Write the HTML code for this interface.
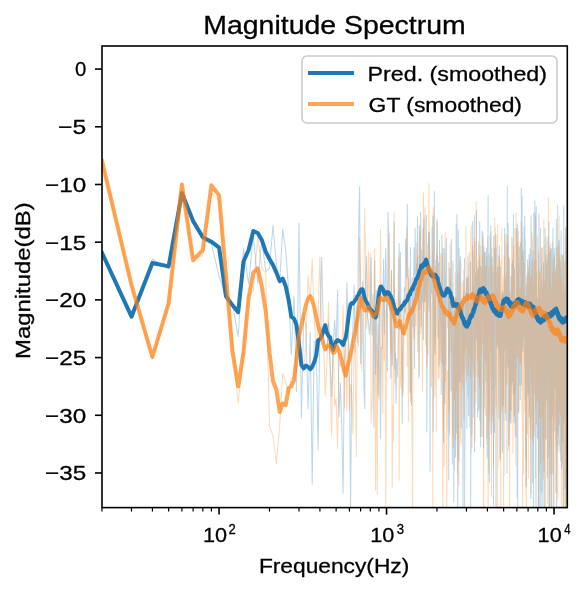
<!DOCTYPE html>
<html><head><meta charset="utf-8"><style>html,body{margin:0;padding:0;background:#fff;overflow:hidden}svg{display:block}text{font-family:"Liberation Sans", sans-serif}</style></head>
<body><svg width="587" height="591" viewBox="0 0 587 591">
<rect width="587" height="591" fill="#fff"/>
<defs><clipPath id="ax"><rect x="102.0" y="46.0" width="465.29999999999995" height="461.6"/></clipPath></defs>
<g clip-path="url(#ax)">
<g opacity="0.3"><path d="M102.0,252.8L131.5,318.0L152.4,259.0L168.6,269.0L181.9,199.9L193.1,218.4L202.8,239.9L211.4,244.1L219.1,276.1L226.0,298.7L232.3,303.2L238.2,336.6L243.5,248.4L248.6,283.8L253.3,235.1L257.7,283.3L261.8,240.3L265.8,271.6L269.5,267.8L273.0,224.9L276.4,265.4L279.7,282.3L282.7,229.1L285.7,250.1L288.6,289.1L291.3,354.4L294.0,296.3L296.5,391.8L299.0,223.3L301.4,417.9L303.7,314.0L305.9,326.3L308.1,409.1L310.2,331.9L312.2,484.3L314.2,341.7L316.2,340.8L318.1,450.0L319.9,329.8L321.7,257.2L323.5,335.8L325.2,345.7L326.8,350.5L328.5,322.8L330.1,360.2L331.6,396.7L333.2,343.6L334.7,319.9L336.1,346.6L337.6,290.0L339.0,416.8L340.4,382.7L341.7,426.8L343.1,493.6L344.4,358.4L345.7,340.1L346.9,282.7L348.2,331.8L349.4,371.9L350.6,511.1L351.8,356.7L352.9,327.8L354.1,285.1L355.2,352.4L356.3,305.4L357.4,342.7L358.5,235.5L359.6,186.4L360.6,364.0L361.6,298.9L362.7,281.3L363.7,376.6L364.7,408.8L365.6,277.6L366.6,256.6L367.5,314.2L368.5,323.2L369.4,334.1L370.3,323.1L371.2,257.5L372.1,335.0L373.0,294.4L373.9,427.1L374.7,260.7L375.6,374.6L376.4,290.3L377.3,356.8L378.1,395.3L378.9,315.6L379.7,299.3L380.5,438.8L381.3,347.9L382.1,348.5L382.8,303.2L383.6,258.7L384.3,334.6L385.1,283.8L385.8,248.4L386.6,311.1L387.3,371.1L388.0,212.1L388.7,236.1L389.4,310.7L390.1,293.2L390.8,378.5L391.5,270.6L392.2,365.8L392.8,354.9L393.5,306.7L394.1,221.9L394.8,368.9L395.4,352.3L396.1,403.6L396.7,358.5L397.3,376.7L398.0,356.5L398.6,306.1L399.2,243.6L399.8,329.6L400.4,252.3L401.0,315.4L401.6,338.9L402.2,423.6L402.8,355.5L403.4,327.5L403.9,313.9L404.5,287.3L405.1,312.7L405.6,238.8L406.2,256.4L406.7,277.2L407.3,204.2L407.8,276.5L408.4,279.5L408.9,318.9L409.5,289.3L410.0,392.2L410.5,247.4L411.0,395.8L411.5,405.2L412.1,277.7L412.6,289.0L413.1,326.7L413.6,275.0L414.1,247.5L414.6,368.3L415.1,228.4L415.6,273.3L416.0,294.4L416.5,263.9L417.0,269.6L417.5,216.8L418.0,277.6L418.4,320.7L418.9,378.2L419.4,225.4L419.8,309.6L420.3,236.9L420.7,212.3L421.2,326.0L421.6,250.6L422.1,302.8L422.5,278.0L423.0,228.4L423.4,339.5L423.9,219.0L424.3,301.2L424.7,272.9L425.1,302.1L425.6,263.5L426.0,295.7L426.4,215.3L426.8,432.0L427.3,305.1L427.7,261.5L428.1,280.0L428.5,233.0L428.9,305.1L429.3,311.6L429.7,231.9L430.1,471.2L430.5,306.6L430.9,277.1L431.3,278.6L431.7,293.6L432.1,226.8L432.5,278.4L432.9,215.7L433.2,431.5L433.6,346.2L434.0,267.7L434.4,191.6L434.8,340.6L435.1,354.6L435.5,334.0L435.9,260.1L436.2,278.5L436.6,253.7L437.0,271.8L437.3,219.3L437.7,284.4L438.1,337.8L438.4,263.0L438.8,326.2L439.1,365.7L439.5,240.4L439.8,318.8L440.2,311.5L440.5,309.3L440.9,337.9L441.2,394.5L441.6,334.2L441.9,235.3L442.2,326.6L442.6,364.8L442.9,248.0L443.2,402.7L443.6,442.5L443.9,369.4L444.2,248.5L444.6,277.7L444.9,403.9L445.2,367.7L445.5,361.0L445.9,280.8L446.2,255.3L446.5,238.3L446.8,308.4L447.1,290.7L447.5,296.8L447.8,327.6L448.1,300.1L448.4,290.9L448.7,480.0L449.0,379.3L449.3,287.5L449.6,434.3L449.9,268.1L450.2,329.2L450.5,279.5L450.8,329.0L451.1,390.8L451.4,239.5L451.7,321.4L452.0,332.8L452.3,464.0L452.6,302.5L452.9,261.2L453.2,354.5L453.5,311.2L453.8,501.7L454.1,390.6L454.4,469.5L454.6,327.4L454.9,297.5L455.2,306.9L455.5,457.2L455.8,428.4L456.1,224.6L456.3,391.8L456.6,432.9L456.9,214.4L457.2,280.7L457.4,269.0L457.7,527.6L458.0,426.1L458.3,230.1L458.5,265.6L458.8,460.4L459.1,248.1L459.3,276.0L459.6,381.3L459.9,382.0L460.1,331.6L460.4,378.7L460.7,256.6L460.9,344.6L461.2,428.0L461.4,313.7L461.7,338.8L462.0,299.7L462.2,300.6L462.5,345.6L462.7,379.1L463.0,514.7L463.2,443.7L463.5,292.2L463.7,357.7L464.0,269.2L464.2,372.1L464.5,258.6L464.7,519.6L465.0,388.6L465.2,357.4L465.5,300.9L465.7,347.0L466.0,292.4L466.2,293.1L466.5,306.8L466.7,278.6L466.9,428.3L467.2,286.3L467.4,396.3L467.7,309.5L467.9,276.7L468.1,310.4L468.4,334.7L468.6,415.7L468.8,368.4L469.1,252.8L469.3,382.4L469.5,387.8L469.8,387.8L470.0,426.3L470.2,404.2L470.5,262.1L470.7,527.6L470.9,378.1L471.2,452.7L471.4,292.7L471.6,393.5L471.8,434.4L472.1,406.6L472.3,361.8L472.5,289.1L472.7,221.4L473.0,360.9L473.2,285.0L473.4,369.9L473.6,321.0L473.8,416.9L474.1,316.6L474.3,215.7L474.5,451.8L474.7,305.0L474.9,391.7L475.1,371.8L475.4,345.3L475.6,273.2L475.8,294.0L476.0,324.7L476.2,295.4L476.4,210.5L476.6,337.0L476.8,339.6L477.1,334.2L477.3,270.7L477.5,369.5L477.7,417.1L477.9,332.0L478.1,267.5L478.3,272.3L478.5,410.7L478.7,297.4L478.9,409.1L479.1,360.9L479.3,245.0L479.5,348.6L479.7,221.9L479.9,420.2L480.1,295.3L480.3,311.4L480.5,335.9L480.7,446.7L480.9,266.0L481.1,371.1L481.3,358.3L481.5,286.8L481.7,267.5L481.9,436.7L482.1,231.1L482.3,260.6L482.5,255.9L482.7,320.8L482.9,233.0L483.1,296.0L483.3,354.1L483.5,448.1L483.7,304.8L483.8,246.3L484.0,319.4L484.2,408.1L484.4,347.4L484.6,324.4L484.8,258.4L485.0,252.5L485.2,325.4L485.4,263.1L485.5,360.9L485.7,299.8L485.9,345.2L486.1,381.3L486.3,247.9L486.5,297.7L486.7,253.0L486.8,443.8L487.0,328.1L487.2,458.0L487.4,252.9L487.6,236.2L487.8,290.4L487.9,280.9L488.1,195.5L488.3,328.7L488.5,399.1L488.7,438.9L488.8,473.6L489.0,300.3L489.2,253.9L489.4,482.7L489.5,261.0L489.7,303.9L489.9,331.9L490.1,235.7L490.2,325.1L490.4,274.7L490.6,350.1L490.8,225.2L490.9,358.7L491.1,434.0L491.3,423.8L491.5,331.7L491.6,338.5L491.8,263.3L492.0,256.9L492.1,334.3L492.3,273.2L492.5,349.4L492.6,389.2L492.8,352.5L493.0,421.0L493.2,316.2L493.3,419.2L493.5,505.2L493.7,236.2L493.8,342.9L494.0,306.3L494.2,255.8L494.3,378.7L494.5,432.5L494.7,336.2L494.8,248.6L495.0,385.5L495.1,261.9L495.3,362.4L495.5,294.1L495.6,270.5L495.8,233.9L496.0,527.6L496.1,359.8L496.3,246.7L496.4,341.3L496.6,348.0L496.8,342.9L496.9,328.1L497.1,288.9L497.2,344.3L497.4,325.4L497.6,287.3L497.7,267.0L497.9,275.4L498.0,319.8L498.2,298.9L498.3,349.0L498.5,326.6L498.7,255.8L498.8,275.8L499.0,418.7L499.1,321.3L499.3,250.7L499.4,245.5L499.6,401.7L499.7,349.6L499.9,460.0L500.0,314.1L500.2,266.8L500.3,441.9L500.5,457.9L500.7,412.2L500.8,338.6L501.0,325.1L501.1,330.4L501.3,333.3L501.4,298.5L501.6,347.8L501.7,320.4L501.9,293.4L502.0,404.1L502.2,303.0L502.3,447.1L502.4,452.6L502.6,448.4L502.7,291.0L502.9,420.2L503.0,309.8L503.2,375.2L503.3,294.2L503.5,341.7L503.6,405.7L503.8,371.3L503.9,333.7L504.1,368.8L504.2,312.0L504.3,283.4L504.5,321.3L504.6,228.5L504.8,263.6L504.9,243.8L505.1,299.4L505.2,349.6L505.3,286.9L505.5,322.7L505.6,332.8L505.8,420.3L505.9,278.9L506.1,341.1L506.2,275.9L506.3,335.4L506.5,288.0L506.6,317.4L506.8,282.1L506.9,234.0L507.0,473.1L507.2,288.9L507.3,186.6L507.4,301.8L507.6,274.0L507.7,329.5L507.9,367.0L508.0,267.1L508.1,223.1L508.3,313.7L508.4,242.1L508.5,366.8L508.7,296.6L508.8,303.1L508.9,445.6L509.1,443.8L509.2,259.9L509.4,258.7L509.5,423.0L509.6,417.3L509.8,318.3L509.9,294.8L510.0,302.0L510.2,410.3L510.3,398.3L510.4,389.3L510.6,383.1L510.7,422.6L510.8,276.8L510.9,301.3L511.1,423.3L511.2,407.1L511.3,342.3L511.5,281.6L511.6,352.7L511.7,386.3L511.9,264.2L512.0,284.3L512.1,326.6L512.3,260.6L512.4,326.9L512.5,382.6L512.6,303.2L512.8,316.5L512.9,260.1L513.0,332.0L513.2,394.6L513.3,296.6L513.4,214.4L513.5,290.3L513.7,335.8L513.8,269.2L513.9,324.9L514.0,422.5L514.2,322.9L514.3,291.6L514.4,327.8L514.5,268.8L514.7,386.4L514.8,312.4L514.9,416.1L515.0,381.9L515.2,436.9L515.3,322.3L515.4,308.8L515.5,390.3L515.7,377.0L515.8,315.6L515.9,370.5L516.0,313.4L516.2,305.5L516.3,341.6L516.4,228.5L516.5,343.3L516.6,240.1L516.8,270.3L516.9,254.4L517.0,289.8L517.1,497.6L517.2,373.1L517.4,223.8L517.5,231.3L517.6,224.6L517.7,527.6L517.8,356.9L518.0,244.9L518.1,356.5L518.2,412.0L518.3,325.3L518.4,324.0L518.6,308.1L518.7,413.1L518.8,264.9L518.9,285.0L519.0,359.5L519.1,344.3L519.3,247.3L519.4,339.5L519.5,365.5L519.6,384.8L519.7,309.2L519.9,292.7L520.0,319.0L520.1,263.1L520.2,335.1L520.3,399.5L520.4,282.5L520.5,242.4L520.7,270.6L520.8,301.5L520.9,353.9L521.0,306.9L521.1,385.6L521.2,357.7L521.3,188.2L521.5,384.9L521.6,315.3L521.7,272.4L521.8,350.7L521.9,281.5L522.0,330.8L522.1,196.1L522.3,312.1L522.4,231.8L522.5,255.3L522.6,329.0L522.7,345.9L522.8,263.4L522.9,250.7L523.0,351.0L523.2,321.1L523.3,340.3L523.4,322.9L523.5,303.1L523.6,335.2L523.7,315.6L523.8,292.8L523.9,274.3L524.0,227.1L524.1,279.6L524.3,269.4L524.4,328.0L524.5,293.4L524.6,280.2L524.7,366.0L524.8,216.0L524.9,296.5L525.0,285.9L525.1,301.0L525.2,400.2L525.3,238.7L525.4,330.4L525.6,357.5L525.7,457.7L525.8,301.3L525.9,356.3L526.0,375.1L526.1,432.4L526.2,486.0L526.3,460.4L526.4,284.1L526.5,463.8L526.6,470.8L526.7,378.0L526.8,286.1L526.9,364.6L527.0,384.6L527.2,326.8L527.3,286.1L527.4,273.6L527.5,259.7L527.6,320.7L527.7,339.1L527.8,349.7L527.9,395.0L528.0,280.2L528.1,267.1L528.2,294.6L528.3,350.4L528.4,270.2L528.5,388.4L528.6,274.4L528.7,302.5L528.8,352.7L528.9,396.1L529.0,254.6L529.1,417.6L529.2,355.6L529.3,297.8L529.4,296.1L529.5,412.3L529.6,342.1L529.7,377.7L529.8,327.5L529.9,346.3L530.0,293.7L530.1,248.8L530.2,298.1L530.3,437.7L530.4,294.2L530.5,332.5L530.6,370.4L530.7,253.6L530.8,286.5L530.9,498.6L531.0,245.9L531.1,215.5L531.2,418.4L531.3,285.0L531.4,356.4L531.5,333.4L531.6,324.6L531.7,360.6L531.8,275.6L531.9,382.6L532.0,345.4L532.1,327.0L532.2,318.7L532.3,261.9L532.4,322.6L532.5,305.8L532.6,483.1L532.7,345.7L532.8,258.7L532.9,259.5L533.0,377.2L533.1,250.9L533.2,319.3L533.3,274.4L533.4,281.3L533.5,411.1L533.6,527.6L533.7,285.5L533.8,213.2L533.9,352.2L534.0,393.8L534.1,355.3L534.2,272.6L534.3,263.3L534.4,361.3L534.5,243.2L534.6,266.3L534.6,356.7L534.7,338.8L534.8,200.7L534.9,279.0L535.0,313.9L535.1,211.9L535.2,272.0L535.3,394.2L535.4,296.6L535.5,293.2L535.6,477.2L535.7,299.3L535.8,213.2L535.9,315.5L536.0,527.6L536.1,284.6L536.2,318.1L536.2,206.5L536.3,314.9L536.4,385.2L536.5,271.7L536.6,322.4L536.7,284.8L536.8,424.9L536.9,299.5L537.0,339.3L537.1,363.1L537.2,374.3L537.3,312.4L537.4,438.3L537.4,339.7L537.5,314.3L537.6,433.2L537.7,390.7L537.8,298.8L537.9,313.0L538.0,331.2L538.1,341.4L538.2,353.6L538.3,317.7L538.4,334.9L538.4,525.0L538.5,253.3L538.6,285.7L538.7,284.6L538.8,356.1L538.9,213.9L539.0,304.1L539.1,370.2L539.2,270.1L539.2,515.4L539.3,371.1L539.4,367.9L539.5,472.5L539.6,407.6L539.7,408.5L539.8,355.6L539.9,357.0L540.0,349.7L540.0,295.3L540.1,321.1L540.2,317.1L540.3,361.2L540.4,227.9L540.5,494.1L540.6,323.3L540.7,355.3L540.7,511.2L540.8,412.3L540.9,366.8L541.0,525.2L541.1,299.2L541.2,421.3L541.3,454.0L541.4,450.8L541.4,351.1L541.5,422.9L541.6,302.9L541.7,258.0L541.8,374.9L541.9,247.8L542.0,319.3L542.0,403.4L542.1,491.8L542.2,333.2L542.3,389.3L542.4,337.2L542.5,372.5L542.6,326.3L542.6,289.1L542.7,291.5L542.8,507.1L542.9,343.5L543.0,404.3L543.1,282.1L543.2,398.3L543.2,460.0L543.3,359.0L543.4,333.4L543.5,262.7L543.6,294.1L543.7,303.1L543.7,298.0L543.8,330.2L543.9,323.8L544.0,335.5L544.1,308.3L544.2,337.0L544.2,347.3L544.3,484.7L544.4,527.6L544.5,347.8L544.6,328.5L544.7,244.9L544.7,396.9L544.8,391.6L544.9,239.3L545.0,280.1L545.1,228.1L545.2,240.9L545.2,358.9L545.3,356.9L545.4,404.3L545.5,286.7L545.6,319.7L545.6,438.8L545.7,271.5L545.8,383.4L545.9,255.1L546.0,381.2L546.1,337.4L546.1,284.0L546.2,348.4L546.3,328.0L546.4,344.7L546.5,399.9L546.5,293.3L546.6,326.9L546.7,327.9L546.8,262.8L546.9,266.3L546.9,322.6L547.0,349.2L547.1,323.0L547.2,346.6L547.3,356.3L547.3,478.0L547.4,279.7L547.5,317.0L547.6,258.7L547.7,325.3L547.7,371.2L547.8,339.2L547.9,241.8L548.0,457.0L548.1,356.4L548.1,296.2L548.2,340.2L548.3,236.7L548.4,352.6L548.4,305.5L548.5,336.7L548.6,338.9L548.7,401.2L548.8,368.7L548.8,340.5L548.9,222.1L549.0,280.9L549.1,292.4L549.1,514.3L549.2,253.1L549.3,395.5L549.4,349.9L549.5,303.4L549.5,293.4L549.6,288.1L549.7,251.9L549.8,524.1L549.8,338.8L549.9,423.0L550.0,327.5L550.1,322.7L550.2,278.1L550.2,280.1L550.3,474.5L550.4,310.7L550.5,322.8L550.5,355.4L550.6,339.2L550.7,253.6L550.8,330.0L550.8,248.5L550.9,336.7L551.0,359.2L551.1,267.3L551.1,419.3L551.2,319.9L551.3,372.8L551.4,372.2L551.4,383.8L551.5,248.9L551.6,514.9L551.7,275.3L551.7,287.2L551.8,289.9L551.9,290.1L552.0,264.6L552.0,343.7L552.1,402.9L552.2,318.9L552.3,315.9L552.3,315.5L552.4,242.0L552.5,336.3L552.6,363.4L552.6,310.5L552.7,416.1L552.8,282.7L552.9,389.6L552.9,397.0L553.0,227.9L553.1,277.9L553.2,364.8L553.2,378.1L553.3,527.6L553.4,336.3L553.5,299.9L553.5,367.8L553.6,252.7L553.7,333.1L553.7,298.5L553.8,365.8L553.9,286.1L554.0,389.5L554.0,268.9L554.1,431.3L554.2,342.4L554.3,248.3L554.3,260.9L554.4,252.4L554.5,271.9L554.5,335.2L554.6,310.3L554.7,278.5L554.8,338.7L554.8,297.7L554.9,321.9L555.0,295.1L555.0,388.3L555.1,326.8L555.2,271.9L555.3,312.2L555.3,275.5L555.4,280.2L555.5,333.7L555.5,268.4L555.6,282.6L555.7,292.8L555.8,482.3L555.8,491.9L555.9,285.0L556.0,368.3L556.0,359.9L556.1,237.7L556.2,310.0L556.3,219.2L556.3,293.9L556.4,424.4L556.5,459.0L556.5,468.3L556.6,508.0L556.7,343.3L556.8,283.9L556.8,373.6L556.9,345.3L557.0,265.7L557.0,264.4L557.1,453.1L557.2,353.2L557.2,324.9L557.3,283.8L557.4,302.4L557.4,415.3L557.5,338.0L557.6,320.6L557.7,204.9L557.7,323.7L557.8,328.4L557.9,286.9L557.9,261.1L558.0,324.2L558.1,434.5L558.1,295.2L558.2,426.8L558.3,318.9L558.3,329.4L558.4,312.8L558.5,242.0L558.6,253.0L558.6,342.5L558.7,445.3L558.8,338.4L558.8,279.0L558.9,305.6L559.0,310.1L559.0,273.1L559.1,336.3L559.2,240.2L559.2,260.9L559.3,247.0L559.4,323.3L559.4,303.8L559.5,415.8L559.6,303.8L559.6,424.1L559.7,259.5L559.8,338.5L559.8,408.7L559.9,332.8L560.0,451.3L560.0,359.4L560.1,390.4L560.2,262.0L560.2,280.5L560.3,373.5L560.4,319.8L560.4,335.7L560.5,284.8L560.6,281.0L560.6,391.0L560.7,398.8L560.8,375.5L560.8,461.3L560.9,280.5L561.0,291.6L561.0,329.1L561.1,231.0L561.2,380.7L561.2,323.1L561.3,311.5L561.4,361.7L561.4,305.3L561.5,268.7L561.6,468.2L561.6,337.5L561.7,335.6L561.8,343.3L561.8,364.6L561.9,357.5L562.0,299.4L562.0,448.7L562.1,375.9L562.2,309.7L562.2,344.4L562.3,414.6L562.3,334.4L562.4,433.5L562.5,463.7L562.5,307.5L562.6,254.9L562.7,333.6L562.7,304.5L562.8,378.8L562.9,474.4L562.9,333.2L563.0,323.3L563.1,295.2L563.1,476.0L563.2,527.6L563.2,341.3L563.3,333.8L563.4,328.9L563.4,303.7L563.5,251.6L563.6,327.0L563.6,286.4L563.7,422.8L563.8,205.7L563.8,243.3L563.9,418.6L564.0,317.5L564.0,292.8L564.1,371.3L564.1,306.4L564.2,369.2L564.3,300.2L564.3,310.9L564.4,403.8L564.5,398.9L564.5,415.4L564.6,315.9L564.6,357.0L564.7,301.3L564.8,296.0L564.8,341.6L564.9,442.1L565.0,286.7L565.0,488.5L565.1,288.8L565.1,307.4L565.2,289.7L565.3,288.7L565.3,337.8L565.4,236.6L565.5,269.2L565.5,413.0L565.6,405.3L565.6,472.4L565.7,228.3L565.8,342.2L565.8,425.7L565.9,527.6L566.0,252.0L566.0,375.0L566.1,386.8L566.1,345.2L566.2,308.1L566.3,275.2L566.3,333.9L566.4,277.6L566.4,268.2L566.5,295.1L566.6,355.8L566.6,340.4L566.7,502.9L566.8,271.7L566.8,357.0L566.9,327.7L566.9,285.9L567.0,305.5L567.1,281.5L567.1,341.3L567.2,228.4L567.2,313.7L567.3,327.5" fill="none" stroke="#1f77b4" stroke-width="1.01" stroke-linejoin="round"/></g>
<g opacity="0.3"><path d="M102.0,161.0L131.5,286.8L152.4,358.2L168.6,304.2L181.9,183.5L193.1,258.8L202.8,255.5L211.4,192.9L219.1,200.5L226.0,281.6L232.3,339.6L238.2,403.2L243.5,352.5L248.6,294.6L253.3,290.5L257.7,235.7L261.8,267.9L265.8,273.8L269.5,426.0L273.0,435.8L276.4,463.7L279.7,425.1L282.7,373.3L285.7,382.1L288.6,394.2L291.3,377.9L294.0,377.8L296.5,346.8L299.0,355.9L301.4,349.0L303.7,371.5L305.9,340.2L308.1,276.3L310.2,299.9L312.2,259.5L314.2,317.9L316.2,352.9L318.1,317.7L319.9,256.8L321.7,337.3L323.5,338.8L325.2,396.0L326.8,366.0L328.5,302.3L330.1,374.5L331.6,436.2L333.2,338.9L334.7,406.3L336.1,398.3L337.6,448.5L339.0,356.6L340.4,365.8L341.7,362.4L343.1,305.1L344.4,407.7L345.7,338.0L346.9,411.5L348.2,335.4L349.4,410.5L350.6,384.0L351.8,392.0L352.9,434.2L354.1,344.6L355.2,349.7L356.3,456.7L357.4,292.5L358.5,346.1L359.6,237.6L360.6,279.2L361.6,371.3L362.7,320.8L363.7,291.6L364.7,208.2L365.6,255.6L366.6,328.6L367.5,318.0L368.5,252.2L369.4,311.0L370.3,253.4L371.2,423.0L372.1,404.2L373.0,353.7L373.9,291.2L374.7,248.8L375.6,489.7L376.4,343.7L377.3,494.7L378.1,324.6L378.9,400.0L379.7,367.7L380.5,229.5L381.3,314.8L382.1,337.0L382.8,413.6L383.6,287.5L384.3,360.5L385.1,309.9L385.8,520.5L386.6,301.1L387.3,303.1L388.0,293.5L388.7,268.7L389.4,233.3L390.1,321.6L390.8,353.3L391.5,269.9L392.2,487.4L392.8,405.6L393.5,441.4L394.1,211.7L394.8,384.0L395.4,352.7L396.1,299.5L396.7,315.9L397.3,320.3L398.0,301.0L398.6,257.7L399.2,480.3L399.8,298.7L400.4,379.6L401.0,387.6L401.6,361.0L402.2,307.4L402.8,396.1L403.4,392.1L403.9,333.3L404.5,301.7L405.1,306.7L405.6,312.3L406.2,318.4L406.7,227.1L407.3,366.2L407.8,276.0L408.4,421.3L408.9,267.7L409.5,308.4L410.0,289.4L410.5,400.9L411.0,307.2L411.5,349.7L412.1,444.0L412.6,527.6L413.1,299.2L413.6,326.9L414.1,338.7L414.6,330.5L415.1,323.4L415.6,277.3L416.0,325.9L416.5,263.5L417.0,242.6L417.5,351.5L418.0,256.8L418.4,282.0L418.9,275.3L419.4,375.1L419.8,240.0L420.3,230.4L420.7,334.1L421.2,280.5L421.6,315.7L422.1,343.8L422.5,391.6L423.0,279.3L423.4,192.7L423.9,221.6L424.3,311.7L424.7,229.1L425.1,207.4L425.6,345.2L426.0,338.7L426.4,275.7L426.8,367.1L427.3,360.2L427.7,243.8L428.1,354.3L428.5,259.4L428.9,183.4L429.3,242.7L429.7,262.6L430.1,287.5L430.5,307.0L430.9,304.9L431.3,386.8L431.7,374.3L432.1,290.1L432.5,251.7L432.9,527.6L433.2,207.4L433.6,222.6L434.0,309.5L434.4,299.0L434.8,396.5L435.1,305.5L435.5,385.7L435.9,266.6L436.2,430.9L436.6,221.7L437.0,288.7L437.3,257.1L437.7,256.7L438.1,379.9L438.4,320.9L438.8,321.0L439.1,377.7L439.5,356.1L439.8,347.4L440.2,252.9L440.5,259.5L440.9,361.7L441.2,307.5L441.6,306.0L441.9,278.5L442.2,253.8L442.6,447.2L442.9,527.6L443.2,322.5L443.6,305.5L443.9,343.2L444.2,466.8L444.6,326.2L444.9,328.2L445.2,231.8L445.5,381.4L445.9,360.6L446.2,312.9L446.5,487.8L446.8,526.2L447.1,380.4L447.5,370.6L447.8,429.9L448.1,382.7L448.4,397.6L448.7,262.4L449.0,337.1L449.3,412.0L449.6,273.4L449.9,287.9L450.2,243.7L450.5,279.4L450.8,316.7L451.1,338.2L451.4,352.5L451.7,323.3L452.0,319.5L452.3,403.8L452.6,438.1L452.9,416.1L453.2,448.1L453.5,390.4L453.8,336.3L454.1,307.2L454.4,399.3L454.6,398.9L454.9,369.4L455.2,272.5L455.5,439.0L455.8,298.6L456.1,389.9L456.3,297.5L456.6,317.1L456.9,392.0L457.2,382.2L457.4,472.9L457.7,273.9L458.0,314.7L458.3,372.2L458.5,365.3L458.8,484.9L459.1,343.0L459.3,292.0L459.6,259.6L459.9,336.4L460.1,263.5L460.4,441.1L460.7,349.4L460.9,444.3L461.2,374.7L461.4,380.7L461.7,318.2L462.0,302.6L462.2,282.2L462.5,383.6L462.7,312.7L463.0,316.1L463.2,390.1L463.5,324.2L463.7,280.5L464.0,420.0L464.2,342.2L464.5,318.0L464.7,340.1L465.0,352.8L465.2,343.7L465.5,335.0L465.7,367.9L466.0,226.2L466.2,347.7L466.5,381.1L466.7,277.3L466.9,290.1L467.2,326.7L467.4,304.1L467.7,256.2L467.9,375.3L468.1,351.2L468.4,263.6L468.6,368.2L468.8,324.1L469.1,356.9L469.3,307.0L469.5,302.8L469.8,352.4L470.0,329.7L470.2,297.6L470.5,378.6L470.7,243.9L470.9,232.6L471.2,225.2L471.4,362.7L471.6,301.4L471.8,379.0L472.1,447.4L472.3,319.8L472.5,245.3L472.7,306.2L473.0,279.8L473.2,251.8L473.4,284.8L473.6,295.1L473.8,291.1L474.1,373.3L474.3,238.5L474.5,323.2L474.7,408.6L474.9,318.4L475.1,442.1L475.4,241.7L475.6,371.0L475.8,398.5L476.0,402.7L476.2,201.9L476.4,309.4L476.6,376.7L476.8,312.2L477.1,322.3L477.3,334.6L477.5,362.0L477.7,260.4L477.9,360.1L478.1,321.5L478.3,300.0L478.5,241.6L478.7,377.1L478.9,343.2L479.1,255.3L479.3,296.5L479.5,387.0L479.7,262.9L479.9,259.7L480.1,270.9L480.3,436.5L480.5,265.5L480.7,245.5L480.9,406.9L481.1,309.7L481.3,292.4L481.5,344.4L481.7,354.2L481.9,296.2L482.1,266.9L482.3,275.2L482.5,255.0L482.7,344.3L482.9,236.4L483.1,260.0L483.3,298.2L483.5,527.6L483.7,319.5L483.8,514.0L484.0,291.6L484.2,396.0L484.4,352.7L484.6,251.5L484.8,326.9L485.0,334.8L485.2,316.0L485.4,306.5L485.5,415.3L485.7,266.5L485.9,339.8L486.1,341.2L486.3,348.5L486.5,314.3L486.7,365.4L486.8,256.8L487.0,437.7L487.2,337.7L487.4,371.4L487.6,389.9L487.8,363.4L487.9,301.1L488.1,527.6L488.3,462.4L488.5,369.8L488.7,318.9L488.8,291.2L489.0,266.5L489.2,368.9L489.4,413.8L489.5,307.0L489.7,377.3L489.9,420.8L490.1,345.7L490.2,301.2L490.4,332.0L490.6,378.2L490.8,368.0L490.9,231.9L491.1,300.7L491.3,353.4L491.5,496.2L491.6,291.3L491.8,247.5L492.0,248.5L492.1,395.1L492.3,416.0L492.5,305.5L492.6,281.2L492.8,265.5L493.0,358.1L493.2,430.4L493.3,331.7L493.5,468.5L493.7,418.0L493.8,320.7L494.0,404.9L494.2,272.4L494.3,322.3L494.5,323.2L494.7,217.4L494.8,282.2L495.0,317.8L495.1,288.3L495.3,227.4L495.5,265.6L495.6,283.6L495.8,273.0L496.0,406.9L496.1,315.5L496.3,291.2L496.4,315.7L496.6,271.6L496.8,416.0L496.9,336.6L497.1,312.2L497.2,235.6L497.4,509.5L497.6,281.0L497.7,225.0L497.9,467.5L498.0,462.3L498.2,285.0L498.3,266.6L498.5,405.7L498.7,299.8L498.8,316.0L499.0,343.1L499.1,357.4L499.3,351.8L499.4,275.2L499.6,256.8L499.7,324.0L499.9,271.0L500.0,260.7L500.2,378.4L500.3,343.7L500.5,287.3L500.7,527.6L500.8,286.0L501.0,381.3L501.1,386.7L501.3,260.8L501.4,280.7L501.6,259.2L501.7,411.7L501.9,227.9L502.0,292.2L502.2,407.5L502.3,309.9L502.4,282.3L502.6,376.9L502.7,301.9L502.9,335.0L503.0,395.6L503.2,306.5L503.3,276.5L503.5,421.5L503.6,513.4L503.8,415.4L503.9,328.1L504.1,255.4L504.2,474.8L504.3,382.3L504.5,332.8L504.6,396.0L504.8,333.9L504.9,320.0L505.1,413.5L505.2,234.7L505.3,361.9L505.5,280.7L505.6,412.3L505.8,272.7L505.9,282.2L506.1,303.2L506.2,385.1L506.3,367.5L506.5,354.5L506.6,331.8L506.8,245.0L506.9,382.9L507.0,255.4L507.2,301.7L507.3,338.2L507.4,346.7L507.6,235.5L507.7,242.2L507.9,265.0L508.0,308.8L508.1,326.6L508.3,363.8L508.4,272.9L508.5,449.4L508.7,332.5L508.8,257.2L508.9,370.6L509.1,309.7L509.2,369.6L509.4,438.3L509.5,322.2L509.6,527.6L509.8,290.9L509.9,421.3L510.0,323.7L510.2,346.3L510.3,371.0L510.4,352.2L510.6,406.8L510.7,354.0L510.8,326.2L510.9,408.7L511.1,316.7L511.2,342.2L511.3,410.9L511.5,277.5L511.6,237.0L511.7,305.6L511.9,358.0L512.0,308.6L512.1,381.2L512.3,288.3L512.4,238.8L512.5,286.2L512.6,330.1L512.8,297.8L512.9,453.3L513.0,253.3L513.2,415.6L513.3,407.3L513.4,293.1L513.5,378.7L513.7,414.7L513.8,324.1L513.9,245.7L514.0,398.8L514.2,256.3L514.3,345.4L514.4,416.3L514.5,326.4L514.7,309.7L514.8,228.8L514.9,410.9L515.0,313.2L515.2,336.5L515.3,336.4L515.4,306.5L515.5,431.6L515.7,355.5L515.8,465.2L515.9,348.0L516.0,212.7L516.2,242.9L516.3,370.9L516.4,437.1L516.5,287.9L516.6,258.6L516.8,271.5L516.9,266.4L517.0,240.4L517.1,257.7L517.2,311.6L517.4,355.0L517.5,357.9L517.6,334.6L517.7,307.6L517.8,323.1L518.0,338.0L518.1,274.3L518.2,315.3L518.3,337.0L518.4,231.2L518.6,313.0L518.7,262.9L518.8,410.5L518.9,241.3L519.0,336.8L519.1,304.7L519.3,291.4L519.4,293.0L519.5,291.3L519.6,287.9L519.7,355.0L519.9,323.1L520.0,363.1L520.1,323.2L520.2,292.9L520.3,344.6L520.4,318.6L520.5,314.0L520.7,302.4L520.8,363.7L520.9,310.4L521.0,292.0L521.1,221.4L521.2,317.8L521.3,310.1L521.5,241.7L521.6,246.5L521.7,317.6L521.8,290.2L521.9,310.9L522.0,411.6L522.1,274.2L522.3,419.8L522.4,255.3L522.5,323.3L522.6,527.6L522.7,344.3L522.8,414.9L522.9,328.3L523.0,251.2L523.2,299.8L523.3,334.5L523.4,288.1L523.5,347.3L523.6,474.1L523.7,340.8L523.8,388.7L523.9,364.2L524.0,275.6L524.1,263.5L524.3,412.1L524.4,386.8L524.5,381.2L524.6,300.5L524.7,317.7L524.8,384.0L524.9,384.3L525.0,382.5L525.1,313.9L525.2,305.7L525.3,296.3L525.4,356.0L525.6,359.5L525.7,418.4L525.8,494.6L525.9,310.2L526.0,332.4L526.1,388.4L526.2,327.4L526.3,354.8L526.4,527.6L526.5,398.1L526.6,276.1L526.7,432.3L526.8,335.7L526.9,332.4L527.0,334.3L527.2,379.0L527.3,308.3L527.4,348.2L527.5,423.1L527.6,384.2L527.7,434.3L527.8,278.7L527.9,273.0L528.0,327.6L528.1,429.2L528.2,371.0L528.3,320.7L528.4,294.0L528.5,326.3L528.6,477.9L528.7,332.3L528.8,389.4L528.9,339.4L529.0,317.9L529.1,269.9L529.2,302.5L529.3,426.6L529.4,260.0L529.5,326.0L529.6,361.2L529.7,278.6L529.8,277.9L529.9,361.1L530.0,313.4L530.1,305.7L530.2,358.0L530.3,368.6L530.4,333.1L530.5,304.5L530.6,298.0L530.7,358.4L530.8,277.4L530.9,338.4L531.0,493.8L531.1,357.7L531.2,346.7L531.3,374.1L531.4,395.7L531.5,360.8L531.6,269.3L531.7,397.4L531.8,338.4L531.9,231.8L532.0,314.8L532.1,439.1L532.2,325.2L532.3,372.5L532.4,338.5L532.5,392.8L532.6,237.3L532.7,280.5L532.8,352.0L532.9,334.0L533.0,297.0L533.1,351.1L533.2,312.0L533.3,444.7L533.4,408.7L533.5,343.9L533.6,284.5L533.7,287.6L533.8,371.9L533.9,298.6L534.0,351.5L534.1,333.4L534.2,277.4L534.3,324.8L534.4,391.9L534.5,436.1L534.6,261.1L534.6,364.5L534.7,411.7L534.8,333.9L534.9,288.4L535.0,260.6L535.1,337.7L535.2,280.4L535.3,386.1L535.4,408.3L535.5,311.2L535.6,215.7L535.7,274.9L535.8,331.4L535.9,303.1L536.0,342.2L536.1,423.6L536.2,282.2L536.2,260.5L536.3,343.9L536.4,303.8L536.5,396.8L536.6,369.4L536.7,324.5L536.8,372.3L536.9,272.1L537.0,304.9L537.1,292.4L537.2,400.8L537.3,382.1L537.4,236.0L537.4,265.4L537.5,377.3L537.6,359.6L537.7,285.1L537.8,352.4L537.9,286.6L538.0,270.1L538.1,312.5L538.2,284.0L538.3,369.6L538.4,325.5L538.4,527.6L538.5,527.6L538.6,386.9L538.7,307.6L538.8,304.6L538.9,376.4L539.0,250.4L539.1,355.5L539.2,323.7L539.2,303.7L539.3,315.8L539.4,417.5L539.5,278.7L539.6,323.7L539.7,327.4L539.8,320.2L539.9,272.8L540.0,323.6L540.0,338.2L540.1,281.1L540.2,295.7L540.3,346.1L540.4,284.9L540.5,457.7L540.6,365.2L540.7,370.7L540.7,463.0L540.8,342.7L540.9,335.6L541.0,292.5L541.1,315.6L541.2,295.2L541.3,313.8L541.4,288.2L541.4,265.8L541.5,351.5L541.6,283.2L541.7,372.8L541.8,337.1L541.9,248.4L542.0,336.4L542.0,417.9L542.1,278.1L542.2,324.6L542.3,332.5L542.4,344.2L542.5,298.7L542.6,345.2L542.6,289.0L542.7,351.9L542.8,284.0L542.9,429.0L543.0,439.3L543.1,314.8L543.2,262.4L543.2,479.0L543.3,246.5L543.4,306.9L543.5,347.5L543.6,302.1L543.7,325.4L543.7,310.5L543.8,219.8L543.9,337.0L544.0,300.6L544.1,282.1L544.2,327.8L544.2,471.7L544.3,291.9L544.4,350.4L544.5,328.3L544.6,286.2L544.7,285.9L544.7,392.1L544.8,359.7L544.9,280.4L545.0,279.5L545.1,344.4L545.2,312.0L545.2,357.6L545.3,292.7L545.4,316.5L545.5,527.6L545.6,347.3L545.6,328.5L545.7,263.3L545.8,349.5L545.9,341.1L546.0,245.3L546.1,439.5L546.1,252.1L546.2,319.0L546.3,276.5L546.4,237.1L546.5,281.8L546.5,292.6L546.6,340.0L546.7,255.9L546.8,260.2L546.9,255.0L546.9,351.1L547.0,335.2L547.1,312.0L547.2,328.4L547.3,346.4L547.3,503.5L547.4,421.0L547.5,420.6L547.6,430.5L547.7,343.6L547.7,314.2L547.8,296.1L547.9,372.2L548.0,329.7L548.1,288.0L548.1,311.4L548.2,345.5L548.3,347.4L548.4,197.6L548.4,315.4L548.5,304.3L548.6,282.7L548.7,328.9L548.8,271.2L548.8,395.1L548.9,348.2L549.0,370.0L549.1,527.6L549.1,314.5L549.2,272.7L549.3,246.7L549.4,389.4L549.5,338.7L549.5,353.5L549.6,307.3L549.7,448.8L549.8,273.6L549.8,317.9L549.9,280.6L550.0,369.4L550.1,442.1L550.2,387.8L550.2,427.4L550.3,438.0L550.4,316.1L550.5,312.0L550.5,439.0L550.6,243.7L550.7,322.3L550.8,310.1L550.8,316.0L550.9,527.6L551.0,503.0L551.1,327.3L551.1,506.7L551.2,286.6L551.3,364.4L551.4,371.7L551.4,443.4L551.5,297.9L551.6,431.6L551.7,458.0L551.7,291.0L551.8,310.7L551.9,321.5L552.0,338.0L552.0,332.4L552.1,303.5L552.2,404.7L552.3,473.9L552.3,350.1L552.4,384.4L552.5,272.1L552.6,326.6L552.6,281.2L552.7,296.0L552.8,306.3L552.9,338.3L552.9,317.8L553.0,473.5L553.1,259.3L553.2,393.8L553.2,311.8L553.3,334.5L553.4,267.9L553.5,390.9L553.5,416.5L553.6,387.2L553.7,372.0L553.7,375.8L553.8,295.1L553.9,432.2L554.0,339.9L554.0,332.4L554.1,527.6L554.2,277.3L554.3,330.6L554.3,401.4L554.4,254.8L554.5,348.7L554.5,376.7L554.6,357.6L554.7,354.2L554.8,401.1L554.8,422.3L554.9,421.5L555.0,406.0L555.0,320.3L555.1,390.2L555.2,337.0L555.3,376.9L555.3,312.6L555.4,279.6L555.5,297.0L555.5,318.7L555.6,287.8L555.7,322.2L555.8,272.6L555.8,311.3L555.9,355.6L556.0,378.4L556.0,439.8L556.1,327.0L556.2,435.7L556.3,444.8L556.3,430.4L556.4,344.7L556.5,437.0L556.5,247.9L556.6,318.8L556.7,311.8L556.8,449.9L556.8,297.2L556.9,362.0L557.0,368.2L557.0,304.8L557.1,493.6L557.2,337.7L557.2,395.5L557.3,359.3L557.4,360.8L557.4,362.7L557.5,397.2L557.6,346.3L557.7,245.7L557.7,465.7L557.8,272.0L557.9,500.0L557.9,374.2L558.0,326.7L558.1,350.9L558.1,340.8L558.2,298.5L558.3,360.8L558.3,262.7L558.4,259.5L558.5,367.1L558.6,303.9L558.6,344.3L558.7,346.0L558.8,389.6L558.8,340.7L558.9,314.2L559.0,425.2L559.0,365.7L559.1,215.7L559.2,327.4L559.2,345.3L559.3,375.0L559.4,384.0L559.4,257.4L559.5,330.3L559.6,410.4L559.6,281.7L559.7,319.2L559.8,373.2L559.8,253.4L559.9,399.3L560.0,287.7L560.0,388.2L560.1,363.7L560.2,362.3L560.2,281.8L560.3,336.2L560.4,298.0L560.4,345.9L560.5,374.9L560.6,416.1L560.6,291.2L560.7,276.3L560.8,374.8L560.8,307.5L560.9,306.0L561.0,359.2L561.0,369.7L561.1,366.1L561.2,360.0L561.2,458.2L561.3,255.1L561.4,523.7L561.4,324.2L561.5,281.1L561.6,346.6L561.6,282.4L561.7,393.2L561.8,341.8L561.8,320.3L561.9,360.8L562.0,289.5L562.0,406.9L562.1,383.4L562.2,417.7L562.2,392.1L562.3,362.1L562.3,330.7L562.4,441.9L562.5,327.2L562.5,293.4L562.6,324.7L562.7,332.6L562.7,341.5L562.8,293.2L562.9,300.0L562.9,298.6L563.0,421.7L563.1,332.5L563.1,296.2L563.2,255.7L563.2,285.2L563.3,310.0L563.4,397.3L563.4,527.6L563.5,410.1L563.6,381.4L563.6,421.2L563.7,409.7L563.8,400.0L563.8,382.3L563.9,383.5L564.0,326.7L564.0,378.7L564.1,424.7L564.1,356.4L564.2,301.1L564.3,264.7L564.3,527.6L564.4,315.4L564.5,381.7L564.5,304.0L564.6,262.0L564.6,363.9L564.7,478.4L564.8,301.0L564.8,455.3L564.9,265.3L565.0,428.4L565.0,399.6L565.1,306.9L565.1,348.8L565.2,377.9L565.3,429.6L565.3,260.7L565.4,331.8L565.5,349.0L565.5,527.6L565.6,386.7L565.6,276.2L565.7,248.4L565.8,323.4L565.8,282.0L565.9,514.1L566.0,385.0L566.0,226.6L566.1,316.9L566.1,309.9L566.2,269.4L566.3,372.7L566.3,486.3L566.4,361.2L566.4,441.4L566.5,376.5L566.6,303.6L566.6,449.6L566.7,366.2L566.8,338.0L566.8,381.1L566.9,331.6L566.9,364.6L567.0,334.9L567.1,324.7L567.1,298.5L567.2,433.2L567.2,359.9L567.3,328.7" fill="none" stroke="#ff7f0e" stroke-width="1.01" stroke-linejoin="round"/></g>
<path d="M102.0,252.8L131.5,316.7L152.4,263.0L168.6,266.4L181.9,193.0L193.1,221.1L202.8,237.3L211.4,241.7L219.1,247.7L226.0,296.4L232.3,305.0L238.2,312.1L243.5,261.5L248.6,250.0L253.3,231.0L257.7,233.0L261.8,240.0L265.8,252.0L269.5,259.0L273.0,265.0L276.4,272.6L279.7,281.1L282.7,278.6L285.7,286.2L288.6,299.8L291.3,316.9L294.0,318.6L296.5,325.0L299.0,344.7L301.4,365.0L303.7,368.4L305.9,365.6L308.1,366.9L310.2,369.3L312.2,366.8L314.2,362.3L316.2,355.4L318.1,340.4L319.9,339.2L321.7,336.2L323.5,329.9L325.2,325.2L326.8,332.5L328.5,335.9L330.1,337.3L331.6,345.8L333.2,349.6L334.7,345.0L336.1,341.5L337.6,340.1L339.0,340.9L340.4,341.3L341.7,342.9L343.1,345.0L344.4,340.7L345.7,337.7L346.9,330.4L348.2,319.3L349.4,310.0L350.6,304.4L351.8,303.1L352.9,303.5L354.1,301.9L355.2,300.0L356.3,298.8L357.4,296.0L358.5,295.2L359.6,292.1L360.6,290.2L361.6,289.2L362.7,289.5L363.7,293.6L364.7,298.3L365.6,300.7L366.6,302.3L367.5,303.8L368.5,306.1L369.4,308.8L370.3,309.0L371.2,310.5L372.1,310.7L373.0,312.2L373.9,315.3L374.7,316.4L375.6,317.5L376.4,314.9L377.3,307.8L378.1,301.3L378.9,294.5L379.7,289.6L380.5,286.8L381.3,286.6L382.1,288.3L382.8,288.8L383.6,290.6L384.3,293.7L385.1,294.7L385.8,292.6L386.6,293.8L387.3,292.1L388.0,292.2L388.7,292.7L389.4,294.0L390.1,295.6L390.8,296.0L391.5,298.8L392.2,299.5L392.8,301.7L393.5,303.6L394.1,307.1L394.8,309.0L395.4,309.6L396.1,311.7L396.7,313.3L397.3,313.7L398.0,311.2L398.6,310.3L399.2,310.1L399.8,308.8L400.4,309.2L401.0,308.1L401.6,306.7L402.2,306.1L402.8,305.3L403.4,304.9L403.9,304.7L404.5,302.3L405.1,302.9L405.6,301.2L406.2,301.1L406.7,300.8L407.3,299.9L407.8,298.5L408.4,295.6L408.9,295.3L409.5,293.8L410.0,294.8L410.5,291.7L411.0,290.9L411.5,290.1L412.1,288.4L412.6,289.4L413.1,287.8L413.6,285.5L414.1,285.4L414.6,283.3L415.1,283.6L415.6,281.4L416.0,279.7L416.5,278.8L417.0,278.7L417.5,277.8L418.0,275.8L418.4,275.3L418.9,273.1L419.4,271.1L419.8,270.2L420.3,269.0L420.7,269.0L421.2,265.7L421.6,265.3L422.1,266.2L422.5,267.0L423.0,266.5L423.4,265.6L423.9,263.6L424.3,265.2L424.7,263.9L425.1,261.5L425.6,261.5L426.0,259.5L426.4,260.8L426.8,262.4L427.3,264.5L427.7,266.1L428.1,266.5L428.5,269.7L428.9,269.5L429.3,270.0L429.7,271.5L430.1,272.6L430.5,272.7L430.9,274.4L431.3,275.2L431.7,274.9L432.1,276.1L432.5,275.2L432.9,276.1L433.2,274.6L433.6,275.9L434.0,274.6L434.4,274.8L434.8,275.0L435.1,274.7L435.5,274.7L435.9,277.6L436.2,275.7L436.6,277.1L437.0,278.6L437.3,277.7L437.7,278.8L438.1,281.6L438.4,283.0L438.8,283.9L439.1,286.1L439.5,287.0L439.8,287.0L440.2,289.4L440.5,289.8L440.9,292.5L441.2,292.4L441.6,292.0L441.9,294.6L442.2,294.4L442.6,294.9L442.9,294.7L443.2,295.7L443.6,295.0L443.9,295.7L444.2,294.1L444.6,295.0L444.9,295.1L445.2,294.2L445.5,293.8L445.9,292.2L446.2,292.8L446.5,289.7L446.8,291.6L447.1,289.3L447.5,288.5L447.8,290.6L448.1,290.3L448.4,290.6L448.7,292.2L449.0,290.2L449.3,292.1L449.6,291.7L449.9,292.4L450.2,292.7L450.5,292.7L450.8,295.1L451.1,297.5L451.4,296.4L451.7,297.0L452.0,298.4L452.3,300.8L452.6,303.7L452.9,301.7L453.2,306.1L453.5,304.9L453.8,303.5L454.1,304.5L454.4,303.8L454.6,305.5L454.9,304.9L455.2,304.1L455.5,304.0L455.8,306.0L456.1,305.7L456.3,304.6L456.6,304.5L456.9,305.6L457.2,306.5L457.4,304.1L457.7,304.9L458.0,306.1L458.3,307.2L458.5,306.2L458.8,306.7L459.1,307.8L459.3,309.0L459.6,310.7L459.9,310.8L460.1,309.4L460.4,310.2L460.7,312.3L460.9,314.5L461.2,315.4L461.4,314.2L461.7,316.8L462.0,317.7L462.2,316.5L462.5,318.5L462.7,317.8L463.0,317.8L463.2,320.0L463.5,319.0L463.7,321.7L464.0,322.8L464.2,323.6L464.5,322.3L464.7,321.5L465.0,324.6L465.2,324.9L465.5,325.6L465.7,324.6L466.0,325.2L466.2,324.5L466.5,324.2L466.7,324.9L466.9,326.8L467.2,325.0L467.4,325.8L467.7,324.5L467.9,323.8L468.1,325.1L468.4,321.6L468.6,322.2L468.8,320.4L469.1,322.7L469.3,320.5L469.5,319.4L469.8,318.2L470.0,319.2L470.2,318.0L470.5,316.4L470.7,315.6L470.9,316.3L471.2,316.6L471.4,315.9L471.6,316.8L471.8,316.4L472.1,316.0L472.3,315.1L472.5,313.4L472.7,313.2L473.0,312.3L473.2,311.8L473.4,310.1L473.6,312.3L473.8,309.9L474.1,308.3L474.3,309.2L474.5,309.3L474.7,307.6L474.9,306.6L475.1,306.9L475.4,304.4L475.6,303.1L475.8,304.5L476.0,303.5L476.2,304.0L476.4,301.6L476.6,302.3L476.8,298.8L477.1,298.1L477.3,299.6L477.5,297.6L477.7,296.4L477.9,295.9L478.1,296.2L478.3,295.4L478.5,295.6L478.7,296.2L478.9,293.6L479.1,292.4L479.3,293.2L479.5,290.5L479.7,291.2L479.9,290.4L480.1,290.6L480.3,289.3L480.5,291.0L480.7,291.2L480.9,291.6L481.1,292.3L481.3,290.0L481.5,291.0L481.7,290.2L481.9,289.3L482.1,291.6L482.3,291.0L482.5,291.7L482.7,291.2L482.9,291.4L483.1,288.5L483.3,288.0L483.5,288.6L483.7,289.3L483.8,290.5L484.0,289.9L484.2,290.5L484.4,291.7L484.6,289.5L484.8,292.0L485.0,290.0L485.2,291.1L485.4,293.1L485.5,293.2L485.7,292.5L485.9,292.4L486.1,294.6L486.3,292.9L486.5,292.4L486.7,293.4L486.8,292.9L487.0,296.1L487.2,293.9L487.4,297.2L487.6,294.8L487.8,295.5L487.9,296.9L488.1,296.3L488.3,297.0L488.5,296.4L488.7,297.8L488.8,296.9L489.0,298.0L489.2,300.8L489.4,298.9L489.5,299.3L489.7,301.1L489.9,302.2L490.1,300.5L490.2,301.3L490.4,302.9L490.6,303.6L490.8,303.4L490.9,302.3L491.1,302.8L491.3,305.3L491.5,305.5L491.6,306.6L491.8,306.7L492.0,305.8L492.1,305.2L492.3,308.4L492.5,308.1L492.6,308.1L492.8,308.9L493.0,308.3L493.2,308.3L493.3,309.4L493.5,309.2L493.7,310.2L493.8,311.2L494.0,311.1L494.2,309.7L494.3,309.8L494.5,312.0L494.7,310.3L494.8,311.9L495.0,309.6L495.1,311.1L495.3,311.5L495.5,312.7L495.6,313.2L495.8,310.7L496.0,312.6L496.1,312.8L496.3,311.3L496.4,314.0L496.6,313.1L496.8,314.8L496.9,312.2L497.1,313.5L497.2,312.8L497.4,314.0L497.6,313.9L497.7,313.7L497.9,313.1L498.0,313.8L498.2,313.3L498.3,315.3L498.5,313.8L498.7,313.9L498.8,313.2L499.0,313.2L499.1,315.8L499.3,313.6L499.4,315.6L499.6,314.7L499.7,316.1L499.9,313.3L500.0,316.1L500.2,315.6L500.3,314.9L500.5,315.5L500.7,315.6L500.8,314.1L501.0,314.1L501.1,312.0L501.3,310.5L501.4,312.2L501.6,310.8L501.7,311.7L501.9,308.7L502.0,310.0L502.2,309.9L502.3,308.9L502.4,308.5L502.6,304.9L502.7,304.3L502.9,303.8L503.0,303.6L503.2,302.1L503.3,301.5L503.5,300.4L503.6,303.0L503.8,300.6L503.9,301.5L504.1,300.8L504.2,301.8L504.3,301.9L504.5,300.4L504.6,300.9L504.8,299.2L504.9,299.8L505.1,299.6L505.2,299.8L505.3,299.8L505.5,300.7L505.6,299.7L505.8,299.7L505.9,301.4L506.1,298.4L506.2,298.3L506.3,298.5L506.5,301.3L506.6,300.4L506.8,300.7L506.9,301.5L507.0,298.8L507.2,301.2L507.3,298.7L507.4,299.7L507.6,300.4L507.7,301.0L507.9,299.3L508.0,300.3L508.1,299.0L508.3,300.1L508.4,302.8L508.5,302.7L508.7,301.8L508.8,302.7L508.9,303.4L509.1,301.5L509.2,304.1L509.4,302.4L509.5,301.6L509.6,303.1L509.8,303.6L509.9,304.1L510.0,304.3L510.2,302.2L510.3,304.6L510.4,305.8L510.6,305.1L510.7,306.4L510.8,305.0L510.9,306.3L511.1,304.1L511.2,307.0L511.3,305.5L511.5,307.0L511.6,304.9L511.7,306.0L511.9,306.7L512.0,306.2L512.1,305.8L512.3,307.0L512.4,303.8L512.5,303.8L512.6,305.4L512.8,306.8L512.9,305.7L513.0,304.3L513.2,303.6L513.3,304.7L513.4,304.8L513.5,304.7L513.7,305.2L513.8,303.9L513.9,306.0L514.0,303.9L514.2,303.2L514.3,304.0L514.4,306.0L514.5,303.2L514.7,303.6L514.8,305.9L514.9,303.7L515.0,305.5L515.2,302.5L515.3,305.4L515.4,302.9L515.5,302.5L515.7,304.4L515.8,305.1L515.9,304.9L516.0,304.0L516.2,304.4L516.3,304.5L516.4,302.8L516.5,301.2L516.6,303.6L516.8,301.8L516.9,301.3L517.0,301.9L517.1,300.0L517.2,299.8L517.4,300.6L517.5,301.6L517.6,302.0L517.7,302.6L517.8,302.0L518.0,302.3L518.1,301.0L518.2,301.2L518.3,300.8L518.4,299.0L518.6,299.0L518.7,301.6L518.8,299.7L518.9,301.9L519.0,300.8L519.1,299.2L519.3,301.2L519.4,300.9L519.5,299.6L519.6,300.4L519.7,300.6L519.9,300.8L520.0,302.2L520.1,300.3L520.2,301.4L520.3,302.0L520.4,303.3L520.5,300.4L520.7,300.3L520.8,300.8L520.9,301.0L521.0,300.8L521.1,300.6L521.2,301.1L521.3,301.2L521.5,302.2L521.6,302.9L521.7,301.9L521.8,301.3L521.9,301.1L522.0,301.8L522.1,301.5L522.3,302.6L522.4,304.1L522.5,303.5L522.6,301.7L522.7,301.2L522.8,301.3L522.9,302.7L523.0,302.5L523.2,303.7L523.3,301.6L523.4,302.2L523.5,303.8L523.6,303.4L523.7,303.3L523.8,304.7L523.9,301.9L524.0,302.2L524.1,303.6L524.3,303.6L524.4,305.2L524.5,305.2L524.6,303.8L524.7,304.5L524.8,304.3L524.9,302.3L525.0,304.0L525.1,303.0L525.2,303.2L525.3,302.6L525.4,302.1L525.6,305.1L525.7,304.7L525.8,304.8L525.9,303.2L526.0,303.7L526.1,302.9L526.2,304.5L526.3,305.4L526.4,305.2L526.5,305.8L526.6,303.4L526.7,305.0L526.8,303.0L526.9,304.5L527.0,303.0L527.2,304.5L527.3,304.6L527.4,303.9L527.5,303.9L527.6,305.3L527.7,304.5L527.8,304.2L527.9,303.2L528.0,303.8L528.1,305.9L528.2,306.4L528.3,304.3L528.4,306.1L528.5,306.1L528.6,303.8L528.7,304.0L528.8,305.6L528.9,304.2L529.0,306.6L529.1,304.5L529.2,305.8L529.3,305.8L529.4,304.0L529.5,306.4L529.6,304.5L529.7,303.7L529.8,303.5L529.9,305.0L530.0,305.7L530.1,304.5L530.2,306.6L530.3,304.6L530.4,306.8L530.5,304.0L530.6,304.9L530.7,304.6L530.8,305.7L530.9,305.4L531.0,305.7L531.1,307.4L531.2,306.5L531.3,306.7L531.4,306.0L531.5,307.6L531.6,306.6L531.7,307.5L531.8,308.2L531.9,307.2L532.0,306.6L532.1,306.1L532.2,308.5L532.3,308.1L532.4,308.3L532.5,306.3L532.6,307.1L532.7,308.8L532.8,306.6L532.9,308.7L533.0,307.8L533.1,306.8L533.2,307.4L533.3,306.4L533.4,308.6L533.5,309.1L533.6,306.8L533.7,308.1L533.8,310.0L533.9,308.3L534.0,309.7L534.1,311.0L534.2,310.4L534.3,309.0L534.4,312.1L534.5,311.8L534.6,311.4L534.6,310.8L534.7,312.0L534.8,311.6L534.9,310.9L535.0,311.1L535.1,311.1L535.2,311.8L535.3,312.4L535.4,314.0L535.5,314.1L535.6,314.4L535.7,315.5L535.8,313.1L535.9,314.4L536.0,313.6L536.1,315.1L536.2,314.1L536.2,314.3L536.3,314.7L536.4,316.0L536.5,317.6L536.6,316.1L536.7,318.0L536.8,316.4L536.9,316.7L537.0,317.5L537.1,316.2L537.2,317.7L537.3,318.3L537.4,319.2L537.4,316.6L537.5,319.4L537.6,318.6L537.7,318.8L537.8,317.0L537.9,320.1L538.0,318.0L538.1,319.1L538.2,319.2L538.3,320.6L538.4,319.6L538.4,321.1L538.5,318.5L538.6,320.2L538.7,320.0L538.8,319.9L538.9,320.4L539.0,320.2L539.1,319.5L539.2,320.8L539.2,318.9L539.3,320.4L539.4,320.4L539.5,319.6L539.6,321.0L539.7,321.5L539.8,319.6L539.9,320.4L540.0,319.6L540.0,321.7L540.1,319.9L540.2,320.5L540.3,321.2L540.4,321.2L540.5,319.6L540.6,322.8L540.7,320.2L540.7,321.5L540.8,320.0L540.9,321.3L541.0,320.3L541.1,320.1L541.2,320.6L541.3,321.0L541.4,320.9L541.4,321.2L541.5,319.6L541.6,318.9L541.7,319.4L541.8,319.6L541.9,320.6L542.0,319.8L542.0,319.4L542.1,318.5L542.2,320.2L542.3,318.4L542.4,319.8L542.5,320.4L542.6,320.1L542.6,318.3L542.7,319.0L542.8,321.0L542.9,317.9L543.0,319.9L543.1,319.0L543.2,319.6L543.2,318.7L543.3,317.7L543.4,319.2L543.5,317.1L543.6,320.1L543.7,319.8L543.7,318.2L543.8,318.8L543.9,318.6L544.0,320.2L544.1,316.8L544.2,317.6L544.2,317.9L544.3,319.2L544.4,319.0L544.5,317.8L544.6,316.2L544.7,318.5L544.7,317.5L544.8,316.4L544.9,318.2L545.0,317.5L545.1,316.9L545.2,316.7L545.2,317.5L545.3,316.5L545.4,316.9L545.5,318.9L545.6,317.1L545.6,316.2L545.7,317.1L545.8,318.5L545.9,318.2L546.0,317.5L546.1,318.2L546.1,317.7L546.2,317.3L546.3,316.3L546.4,315.3L546.5,317.3L546.5,316.9L546.6,318.0L546.7,315.6L546.8,317.6L546.9,315.1L546.9,317.7L547.0,317.9L547.1,314.4L547.2,315.4L547.3,317.8L547.3,317.7L547.4,316.6L547.5,314.7L547.6,314.2L547.7,315.0L547.7,317.5L547.8,317.0L547.9,315.6L548.0,316.8L548.1,317.3L548.1,315.1L548.2,317.2L548.3,315.0L548.4,315.2L548.4,314.1L548.5,314.5L548.6,315.9L548.7,314.0L548.8,315.9L548.8,314.5L548.9,316.6L549.0,314.3L549.1,314.6L549.1,314.8L549.2,315.9L549.3,316.7L549.4,316.5L549.5,316.4L549.5,316.2L549.6,315.7L549.7,315.0L549.8,314.4L549.8,316.8L549.9,315.2L550.0,316.0L550.1,313.9L550.2,314.9L550.2,314.0L550.3,314.9L550.4,316.2L550.5,314.7L550.5,315.8L550.6,313.7L550.7,314.6L550.8,314.6L550.8,314.9L550.9,313.8L551.0,315.4L551.1,316.0L551.1,315.7L551.2,312.8L551.3,314.4L551.4,313.8L551.4,314.5L551.5,312.7L551.6,314.9L551.7,313.7L551.7,315.6L551.8,312.1L551.9,313.5L552.0,313.7L552.0,314.8L552.1,314.5L552.2,312.4L552.3,312.7L552.3,314.2L552.4,313.0L552.5,312.4L552.6,314.7L552.6,314.3L552.7,312.5L552.8,313.1L552.9,314.4L552.9,311.7L553.0,314.2L553.1,314.0L553.2,313.4L553.2,313.1L553.3,313.1L553.4,312.5L553.5,312.5L553.5,311.1L553.6,312.3L553.7,312.6L553.7,311.9L553.8,312.6L553.9,311.7L554.0,312.9L554.0,312.5L554.1,310.2L554.2,312.6L554.3,310.8L554.3,310.0L554.4,310.1L554.5,310.8L554.5,311.5L554.6,310.7L554.7,310.2L554.8,312.2L554.8,310.7L554.9,312.5L555.0,310.1L555.0,311.7L555.1,310.4L555.2,312.2L555.3,311.4L555.3,311.4L555.4,309.3L555.5,311.6L555.5,310.1L555.6,311.4L555.7,311.8L555.8,309.1L555.8,308.7L555.9,311.3L556.0,312.0L556.0,311.7L556.1,310.0L556.2,311.4L556.3,308.4L556.3,308.5L556.4,310.3L556.5,310.3L556.5,311.6L556.6,309.6L556.7,310.6L556.8,312.7L556.8,310.4L556.9,311.0L557.0,311.9L557.0,313.5L557.1,310.8L557.2,312.8L557.2,312.0L557.3,312.1L557.4,311.8L557.4,312.7L557.5,313.3L557.6,312.9L557.7,313.5L557.7,314.1L557.8,315.1L557.9,314.2L557.9,313.8L558.0,316.1L558.1,313.4L558.1,313.1L558.2,316.4L558.3,314.3L558.3,314.1L558.4,315.1L558.5,315.1L558.6,315.4L558.6,317.3L558.7,315.5L558.8,315.1L558.8,315.6L558.9,318.4L559.0,316.8L559.0,316.7L559.1,318.4L559.2,319.0L559.2,317.6L559.3,318.8L559.4,316.9L559.4,317.3L559.5,318.2L559.6,317.0L559.6,317.2L559.7,317.0L559.8,317.4L559.8,319.5L559.9,319.4L560.0,317.1L560.0,318.0L560.1,319.4L560.2,320.0L560.2,319.0L560.3,319.7L560.4,318.0L560.4,320.0L560.5,320.3L560.6,318.8L560.6,318.3L560.7,317.7L560.8,319.9L560.8,320.0L560.9,317.8L561.0,319.7L561.0,321.3L561.1,318.1L561.2,318.6L561.2,318.4L561.3,319.8L561.4,319.7L561.4,321.5L561.5,318.7L561.6,319.3L561.6,322.0L561.7,318.8L561.8,319.7L561.8,320.3L561.9,319.0L562.0,320.1L562.0,321.3L562.1,321.4L562.2,321.5L562.2,321.7L562.3,321.6L562.3,319.6L562.4,322.0L562.5,321.8L562.5,320.5L562.6,321.1L562.7,320.4L562.7,322.7L562.8,320.5L562.9,320.1L562.9,322.3L563.0,322.1L563.1,322.4L563.1,321.8L563.2,320.8L563.2,320.9L563.3,321.2L563.4,321.3L563.4,322.5L563.5,320.0L563.6,321.8L563.6,319.1L563.7,319.6L563.8,322.3L563.8,319.8L563.9,320.7L564.0,322.1L564.0,321.1L564.1,320.5L564.1,321.2L564.2,322.2L564.3,322.0L564.3,319.2L564.4,319.0L564.5,319.5L564.5,319.0L564.6,321.1L564.6,321.4L564.7,318.8L564.8,318.5L564.8,319.4L564.9,320.7L565.0,320.9L565.0,319.8L565.1,320.4L565.1,321.3L565.2,321.2L565.3,318.4L565.3,320.5L565.4,320.7L565.5,321.1L565.5,319.3L565.6,318.3L565.6,319.4L565.7,319.0L565.8,319.1L565.8,320.5L565.9,319.9L566.0,320.0L566.0,319.9L566.1,318.0L566.1,317.6L566.2,318.8L566.3,320.4L566.3,319.6L566.4,320.1L566.4,319.5L566.5,320.0L566.6,320.7L566.6,319.7L566.7,320.2L566.8,320.5L566.8,319.7L566.9,319.9L566.9,317.2L567.0,317.0L567.1,320.2L567.1,317.7L567.2,317.9L567.2,317.2L567.3,319.0" fill="none" stroke="#1f77b4" stroke-width="4" stroke-linejoin="round" stroke-linecap="square"/>
<g opacity="0.7"><path d="M102.0,161.0L131.5,285.0L152.4,357.0L168.6,303.4L181.9,184.5L193.1,260.3L202.8,250.0L211.4,185.3L219.1,195.5L226.0,276.0L232.3,350.7L238.2,386.4L243.5,352.4L248.6,298.0L253.3,272.6L257.7,268.3L261.8,286.2L265.8,311.8L269.5,352.4L273.0,381.3L276.4,389.8L279.7,412.0L282.7,403.5L285.7,405.2L288.6,388.1L291.3,386.4L294.0,380.0L296.5,358.0L299.0,335.8L301.4,325.9L303.7,314.8L305.9,304.9L308.1,298.6L310.2,296.0L312.2,300.1L314.2,307.2L316.2,317.0L318.1,325.3L319.9,331.4L321.7,338.5L323.5,344.4L325.2,349.4L326.8,346.7L328.5,345.2L330.1,346.4L331.6,349.5L333.2,352.8L334.7,352.0L336.1,345.9L337.6,348.1L339.0,351.0L340.4,355.7L341.7,359.8L343.1,366.6L344.4,371.9L345.7,375.6L346.9,369.5L348.2,364.0L349.4,359.4L350.6,353.6L351.8,348.4L352.9,342.0L354.1,336.5L355.2,331.3L356.3,323.9L357.4,319.3L358.5,311.0L359.6,304.9L360.6,297.8L361.6,300.0L362.7,302.9L363.7,307.2L364.7,310.5L365.6,310.5L366.6,309.1L367.5,308.1L368.5,306.8L369.4,309.0L370.3,311.6L371.2,312.5L372.1,314.4L373.0,316.5L373.9,315.8L374.7,314.3L375.6,314.2L376.4,313.4L377.3,311.7L378.1,306.0L378.9,303.5L379.7,298.7L380.5,297.6L381.3,298.9L382.1,299.5L382.8,300.0L383.6,299.5L384.3,300.2L385.1,299.5L385.8,297.6L386.6,297.7L387.3,297.9L388.0,298.9L388.7,300.8L389.4,301.1L390.1,304.1L390.8,305.5L391.5,306.7L392.2,309.4L392.8,311.7L393.5,313.8L394.1,317.4L394.8,318.8L395.4,321.9L396.1,322.7L396.7,326.6L397.3,325.7L398.0,325.0L398.6,323.7L399.2,322.4L399.8,321.0L400.4,324.6L401.0,324.7L401.6,327.5L402.2,328.4L402.8,330.3L403.4,333.5L403.9,333.5L404.5,330.5L405.1,329.2L405.6,327.4L406.2,324.6L406.7,323.3L407.3,320.6L407.8,318.6L408.4,317.1L408.9,315.1L409.5,313.7L410.0,314.2L410.5,313.8L411.0,310.9L411.5,311.7L412.1,311.1L412.6,310.1L413.1,308.3L413.6,306.9L414.1,306.0L414.6,303.5L415.1,303.4L415.6,300.6L416.0,298.8L416.5,299.7L417.0,295.1L417.5,293.1L418.0,290.4L418.4,287.9L418.9,285.9L419.4,285.8L419.8,283.4L420.3,281.3L420.7,279.0L421.2,279.9L421.6,277.7L422.1,277.4L422.5,275.2L423.0,272.8L423.4,271.6L423.9,273.5L424.3,271.8L424.7,271.5L425.1,272.1L425.6,271.6L426.0,271.6L426.4,272.9L426.8,271.0L427.3,271.5L427.7,268.0L428.1,267.6L428.5,268.4L428.9,267.0L429.3,268.8L429.7,268.6L430.1,269.4L430.5,271.5L430.9,270.7L431.3,272.1L431.7,273.0L432.1,272.2L432.5,273.2L432.9,274.9L433.2,275.6L433.6,279.0L434.0,280.1L434.4,280.8L434.8,282.4L435.1,282.6L435.5,284.8L435.9,287.3L436.2,286.1L436.6,289.1L437.0,290.4L437.3,290.1L437.7,291.5L438.1,292.3L438.4,294.7L438.8,295.2L439.1,295.6L439.5,297.2L439.8,298.2L440.2,301.6L440.5,301.6L440.9,302.3L441.2,303.4L441.6,304.8L441.9,307.1L442.2,306.4L442.6,306.4L442.9,307.3L443.2,307.1L443.6,308.1L443.9,309.8L444.2,309.1L444.6,311.3L444.9,312.0L445.2,309.8L445.5,312.4L445.9,312.3L446.2,313.7L446.5,311.5L446.8,313.6L447.1,312.5L447.5,312.3L447.8,312.7L448.1,315.2L448.4,314.0L448.7,314.1L449.0,315.7L449.3,315.9L449.6,316.3L449.9,313.7L450.2,317.2L450.5,316.8L450.8,318.1L451.1,318.4L451.4,319.3L451.7,319.8L452.0,319.6L452.3,318.5L452.6,320.9L452.9,319.4L453.2,321.0L453.5,321.4L453.8,322.0L454.1,323.9L454.4,323.2L454.6,322.4L454.9,320.5L455.2,320.1L455.5,317.0L455.8,316.9L456.1,317.5L456.3,315.5L456.6,314.7L456.9,314.8L457.2,312.0L457.4,313.3L457.7,312.0L458.0,309.1L458.3,309.9L458.5,311.2L458.8,308.5L459.1,307.2L459.3,307.3L459.6,308.2L459.9,306.2L460.1,305.6L460.4,305.5L460.7,307.4L460.9,307.5L461.2,304.2L461.4,305.3L461.7,305.2L462.0,302.6L462.2,304.9L462.5,304.0L462.7,303.2L463.0,302.0L463.2,302.6L463.5,302.3L463.7,299.9L464.0,299.2L464.2,301.4L464.5,299.1L464.7,298.4L465.0,299.7L465.2,298.5L465.5,298.1L465.7,298.3L466.0,298.4L466.2,297.9L466.5,299.0L466.7,298.2L466.9,298.4L467.2,298.4L467.4,295.6L467.7,299.0L467.9,298.2L468.1,295.7L468.4,298.0L468.6,298.0L468.8,297.2L469.1,296.5L469.3,297.3L469.5,295.9L469.8,296.6L470.0,297.4L470.2,297.6L470.5,296.9L470.7,298.0L470.9,298.0L471.2,297.9L471.4,296.7L471.6,295.4L471.8,294.6L472.1,296.4L472.3,296.1L472.5,294.1L472.7,294.6L473.0,297.4L473.2,296.7L473.4,297.5L473.6,295.7L473.8,296.3L474.1,297.2L474.3,296.8L474.5,295.7L474.7,297.5L474.9,298.5L475.1,297.7L475.4,300.0L475.6,300.2L475.8,297.2L476.0,298.9L476.2,299.8L476.4,299.4L476.6,301.7L476.8,299.5L477.1,301.6L477.3,299.4L477.5,301.2L477.7,298.2L477.9,300.8L478.1,300.6L478.3,299.4L478.5,298.3L478.7,298.4L478.9,297.3L479.1,297.7L479.3,298.4L479.5,298.2L479.7,297.9L479.9,299.2L480.1,296.6L480.3,298.5L480.5,298.6L480.7,296.7L480.9,295.9L481.1,298.9L481.3,298.8L481.5,298.1L481.7,300.0L481.9,297.8L482.1,299.7L482.3,299.7L482.5,299.0L482.7,300.6L482.9,298.4L483.1,299.4L483.3,300.3L483.5,302.2L483.7,301.7L483.8,299.4L484.0,301.7L484.2,300.2L484.4,301.3L484.6,303.3L484.8,300.6L485.0,299.8L485.2,302.5L485.4,299.7L485.5,300.9L485.7,299.4L485.9,301.7L486.1,300.8L486.3,300.7L486.5,298.0L486.7,298.7L486.8,300.2L487.0,298.0L487.2,297.1L487.4,299.6L487.6,297.3L487.8,298.2L487.9,296.5L488.1,296.1L488.3,297.2L488.5,297.8L488.7,298.3L488.8,299.0L489.0,297.6L489.2,298.3L489.4,297.0L489.5,299.2L489.7,297.3L489.9,296.3L490.1,296.9L490.2,296.6L490.4,298.3L490.6,296.5L490.8,297.5L490.9,296.9L491.1,298.5L491.3,296.6L491.5,296.3L491.6,296.4L491.8,296.0L492.0,297.6L492.1,297.0L492.3,297.5L492.5,295.4L492.6,297.8L492.8,296.7L493.0,298.2L493.2,298.6L493.3,295.5L493.5,298.0L493.7,297.2L493.8,299.1L494.0,297.5L494.2,299.5L494.3,300.6L494.5,300.3L494.7,299.7L494.8,301.7L495.0,302.7L495.1,300.8L495.3,300.5L495.5,301.9L495.6,302.4L495.8,302.7L496.0,305.1L496.1,302.9L496.3,302.6L496.4,302.9L496.6,304.9L496.8,304.5L496.9,305.7L497.1,306.5L497.2,305.3L497.4,304.8L497.6,307.7L497.7,305.2L497.9,305.8L498.0,304.9L498.2,307.1L498.3,305.9L498.5,307.9L498.7,306.8L498.8,308.4L499.0,306.7L499.1,308.5L499.3,306.0L499.4,307.2L499.6,307.2L499.7,307.6L499.9,307.0L500.0,307.4L500.2,310.0L500.3,306.9L500.5,308.5L500.7,310.1L500.8,308.6L501.0,308.5L501.1,308.8L501.3,307.4L501.4,307.6L501.6,309.4L501.7,309.1L501.9,307.7L502.0,308.6L502.2,310.5L502.3,307.6L502.4,309.8L502.6,310.3L502.7,308.8L502.9,307.5L503.0,308.6L503.2,309.7L503.3,309.3L503.5,309.9L503.6,308.7L503.8,306.9L503.9,307.0L504.1,309.8L504.2,308.8L504.3,310.2L504.5,309.9L504.6,309.2L504.8,309.0L504.9,309.7L505.1,307.5L505.2,308.2L505.3,309.5L505.5,309.4L505.6,308.4L505.8,309.2L505.9,308.8L506.1,311.6L506.2,309.5L506.3,311.5L506.5,310.1L506.6,310.2L506.8,310.2L506.9,311.6L507.0,313.6L507.2,314.1L507.3,313.1L507.4,314.5L507.6,314.0L507.7,315.4L507.9,313.0L508.0,313.4L508.1,313.7L508.3,316.0L508.4,316.7L508.5,316.4L508.7,317.3L508.8,314.2L508.9,315.0L509.1,314.9L509.2,315.3L509.4,315.1L509.5,315.0L509.6,313.8L509.8,314.9L509.9,315.1L510.0,315.4L510.2,312.7L510.3,315.5L510.4,312.6L510.6,312.9L510.7,314.4L510.8,311.4L510.9,312.1L511.1,311.6L511.2,310.4L511.3,310.0L511.5,310.3L511.6,311.1L511.7,309.2L511.9,309.5L512.0,311.9L512.1,310.0L512.3,309.0L512.4,311.3L512.5,310.1L512.6,308.5L512.8,310.0L512.9,306.9L513.0,307.7L513.2,309.8L513.3,308.0L513.4,306.3L513.5,306.0L513.7,308.9L513.8,306.7L513.9,308.3L514.0,305.8L514.2,306.8L514.3,305.4L514.4,307.4L514.5,307.0L514.7,307.4L514.8,305.5L514.9,306.3L515.0,303.6L515.2,305.3L515.3,305.6L515.4,305.4L515.5,303.5L515.7,302.4L515.8,304.3L515.9,304.6L516.0,303.7L516.2,302.2L516.3,302.8L516.4,301.9L516.5,304.1L516.6,303.3L516.8,303.3L516.9,303.8L517.0,305.0L517.1,305.1L517.2,301.9L517.4,302.2L517.5,305.8L517.6,303.7L517.7,305.2L517.8,304.1L518.0,305.8L518.1,305.8L518.2,304.4L518.3,306.1L518.4,303.8L518.6,304.0L518.7,305.9L518.8,307.5L518.9,308.0L519.0,304.8L519.1,306.0L519.3,305.4L519.4,308.3L519.5,306.8L519.6,306.7L519.7,307.3L519.9,307.3L520.0,308.0L520.1,306.5L520.2,306.8L520.3,307.6L520.4,307.2L520.5,310.4L520.7,307.5L520.8,310.3L520.9,308.2L521.0,310.7L521.1,307.8L521.2,309.4L521.3,309.9L521.5,307.5L521.6,309.5L521.7,309.3L521.8,310.5L521.9,309.0L522.0,309.5L522.1,307.9L522.3,310.3L522.4,311.4L522.5,310.8L522.6,310.9L522.7,310.8L522.8,309.0L522.9,311.6L523.0,308.6L523.2,310.0L523.3,311.3L523.4,311.1L523.5,309.4L523.6,309.3L523.7,309.9L523.8,309.1L523.9,307.9L524.0,308.1L524.1,309.5L524.3,308.2L524.4,308.1L524.5,306.4L524.6,305.8L524.7,308.7L524.8,308.2L524.9,306.7L525.0,307.0L525.1,306.7L525.2,305.7L525.3,304.1L525.4,303.6L525.6,305.9L525.7,305.9L525.8,302.9L525.9,305.3L526.0,302.2L526.1,305.0L526.2,303.4L526.3,303.1L526.4,304.6L526.5,303.5L526.6,302.9L526.7,304.3L526.8,303.1L526.9,302.7L527.0,304.7L527.2,305.0L527.3,304.5L527.4,303.4L527.5,306.2L527.6,305.8L527.7,303.7L527.8,305.6L527.9,305.5L528.0,303.8L528.1,306.3L528.2,304.4L528.3,306.7L528.4,306.7L528.5,307.8L528.6,305.9L528.7,307.1L528.8,307.9L528.9,305.6L529.0,306.3L529.1,308.0L529.2,309.1L529.3,307.8L529.4,309.9L529.5,310.2L529.6,308.2L529.7,308.3L529.8,309.6L529.9,309.7L530.0,310.9L530.1,308.5L530.2,311.3L530.3,309.9L530.4,309.5L530.5,310.0L530.6,309.6L530.7,310.0L530.8,312.0L530.9,310.7L531.0,312.8L531.1,312.2L531.2,311.4L531.3,311.6L531.4,312.5L531.5,312.8L531.6,311.9L531.7,311.1L531.8,313.2L531.9,312.5L532.0,314.4L532.1,315.0L532.2,313.2L532.3,313.5L532.4,315.9L532.5,315.4L532.6,315.6L532.7,313.7L532.8,316.1L532.9,314.8L533.0,314.2L533.1,313.3L533.2,314.8L533.3,315.0L533.4,313.6L533.5,314.7L533.6,314.3L533.7,312.7L533.8,314.1L533.9,311.9L534.0,313.2L534.1,313.1L534.2,313.9L534.3,313.8L534.4,313.0L534.5,310.9L534.6,311.2L534.6,312.8L534.7,313.6L534.8,310.6L534.9,313.1L535.0,312.0L535.1,312.5L535.2,310.0L535.3,311.3L535.4,313.1L535.5,310.1L535.6,310.2L535.7,310.8L535.8,311.0L535.9,309.3L536.0,309.3L536.1,311.1L536.2,308.9L536.2,309.7L536.3,309.8L536.4,309.6L536.5,312.1L536.6,309.4L536.7,311.0L536.8,309.3L536.9,311.9L537.0,311.2L537.1,309.2L537.2,310.5L537.3,310.4L537.4,308.4L537.4,311.5L537.5,309.2L537.6,310.8L537.7,308.6L537.8,309.9L537.9,309.5L538.0,310.7L538.1,309.1L538.2,308.4L538.3,309.0L538.4,308.2L538.4,311.5L538.5,309.1L538.6,311.1L538.7,309.6L538.8,311.1L538.9,309.5L539.0,308.4L539.1,308.5L539.2,309.1L539.2,308.0L539.3,309.9L539.4,307.8L539.5,309.2L539.6,309.6L539.7,311.3L539.8,309.5L539.9,311.3L540.0,310.0L540.0,310.6L540.1,311.5L540.2,310.6L540.3,312.2L540.4,312.1L540.5,310.5L540.6,311.9L540.7,309.9L540.7,310.3L540.8,312.8L540.9,310.8L541.0,313.2L541.1,310.6L541.2,311.9L541.3,311.0L541.4,313.1L541.4,313.0L541.5,311.8L541.6,311.5L541.7,314.4L541.8,313.5L541.9,313.4L542.0,314.0L542.0,311.6L542.1,312.1L542.2,314.9L542.3,313.2L542.4,314.8L542.5,315.4L542.6,315.8L542.6,316.1L542.7,315.8L542.8,313.8L542.9,315.7L543.0,315.5L543.1,314.4L543.2,315.9L543.2,314.5L543.3,313.5L543.4,315.0L543.5,313.4L543.6,316.3L543.7,313.2L543.7,314.0L543.8,314.3L543.9,313.3L544.0,314.4L544.1,314.5L544.2,313.0L544.2,313.2L544.3,314.7L544.4,314.0L544.5,315.9L544.6,313.0L544.7,316.2L544.7,313.3L544.8,313.1L544.9,314.7L545.0,316.2L545.1,315.1L545.2,313.6L545.2,315.0L545.3,314.7L545.4,313.1L545.5,314.9L545.6,315.8L545.6,315.8L545.7,314.3L545.8,314.4L545.9,315.0L546.0,315.6L546.1,314.1L546.1,314.5L546.2,314.6L546.3,316.6L546.4,316.6L546.5,317.8L546.5,315.7L546.6,316.2L546.7,318.7L546.8,316.4L546.9,317.7L546.9,316.2L547.0,318.5L547.1,316.3L547.2,319.0L547.3,317.4L547.3,318.8L547.4,319.2L547.5,317.5L547.6,317.8L547.7,317.1L547.7,318.7L547.8,318.8L547.9,319.5L548.0,318.1L548.1,318.7L548.1,319.2L548.2,320.5L548.3,319.3L548.4,321.1L548.4,320.5L548.5,321.4L548.6,321.6L548.7,319.9L548.8,322.0L548.8,320.8L548.9,322.5L549.0,321.6L549.1,322.8L549.1,322.0L549.2,320.6L549.3,322.2L549.4,320.9L549.5,323.7L549.5,324.1L549.6,321.5L549.7,324.2L549.8,323.3L549.8,324.2L549.9,324.4L550.0,323.2L550.1,325.4L550.2,322.7L550.2,326.4L550.3,324.5L550.4,326.6L550.5,324.1L550.5,326.7L550.6,324.7L550.7,327.1L550.8,326.8L550.8,327.6L550.9,327.0L551.0,325.1L551.1,325.2L551.1,327.5L551.2,328.1L551.3,328.6L551.4,328.2L551.4,329.4L551.5,327.1L551.6,327.5L551.7,326.6L551.7,329.6L551.8,327.5L551.9,329.3L552.0,329.2L552.0,329.6L552.1,328.8L552.2,327.4L552.3,330.3L552.3,330.7L552.4,327.7L552.5,331.0L552.6,329.8L552.6,330.6L552.7,330.9L552.8,330.7L552.9,329.5L552.9,330.4L553.0,328.2L553.1,329.5L553.2,329.8L553.2,328.3L553.3,331.3L553.4,331.3L553.5,330.2L553.5,329.7L553.6,329.0L553.7,332.3L553.7,329.3L553.8,329.2L553.9,330.3L554.0,332.6L554.0,329.4L554.1,329.6L554.2,330.5L554.3,331.1L554.3,332.3L554.4,330.6L554.5,331.2L554.5,332.8L554.6,330.8L554.7,330.9L554.8,333.1L554.8,332.8L554.9,333.7L555.0,333.3L555.0,332.9L555.1,330.7L555.2,330.8L555.3,331.3L555.3,333.2L555.4,331.6L555.5,330.5L555.5,333.8L555.6,331.6L555.7,330.4L555.8,333.0L555.8,332.7L555.9,331.2L556.0,330.5L556.0,332.7L556.1,330.2L556.2,332.6L556.3,331.8L556.3,333.2L556.4,331.1L556.5,333.0L556.5,332.0L556.6,330.9L556.7,332.2L556.8,331.1L556.8,331.0L556.9,330.4L557.0,331.6L557.0,331.1L557.1,330.9L557.2,329.6L557.2,332.7L557.3,330.4L557.4,332.9L557.4,330.1L557.5,329.4L557.6,332.8L557.7,331.7L557.7,332.0L557.8,330.7L557.9,329.4L557.9,332.3L558.0,333.0L558.1,331.4L558.1,330.3L558.2,331.3L558.3,333.7L558.3,330.5L558.4,332.0L558.5,331.4L558.6,333.7L558.6,334.1L558.7,333.1L558.8,334.1L558.8,335.2L558.9,332.9L559.0,333.9L559.0,335.2L559.1,332.6L559.2,335.2L559.2,333.7L559.3,333.6L559.4,333.5L559.4,334.8L559.5,335.5L559.6,334.5L559.6,335.5L559.7,334.2L559.8,336.1L559.8,335.7L559.9,334.5L560.0,336.3L560.0,336.8L560.1,336.0L560.2,336.7L560.2,337.0L560.3,336.9L560.4,335.7L560.4,335.6L560.5,337.0L560.6,338.2L560.6,338.9L560.7,338.0L560.8,338.1L560.8,338.9L560.9,337.7L561.0,340.1L561.0,338.7L561.1,338.3L561.2,340.5L561.2,338.3L561.3,339.5L561.4,338.6L561.4,340.8L561.5,339.8L561.6,337.6L561.6,340.0L561.7,338.1L561.8,339.4L561.8,339.8L561.9,340.0L562.0,340.3L562.0,339.5L562.1,340.0L562.2,337.6L562.2,339.6L562.3,339.8L562.3,340.8L562.4,339.0L562.5,337.9L562.5,339.6L562.6,339.1L562.7,339.7L562.7,337.9L562.8,338.0L562.9,339.7L562.9,340.4L563.0,339.9L563.1,338.9L563.1,340.0L563.2,340.9L563.2,340.8L563.3,340.8L563.4,339.6L563.4,341.2L563.5,339.1L563.6,341.4L563.6,338.3L563.7,338.1L563.8,338.5L563.8,340.1L563.9,341.1L564.0,338.5L564.0,339.9L564.1,338.1L564.1,339.4L564.2,340.7L564.3,340.8L564.3,340.8L564.4,340.0L564.5,338.2L564.5,340.5L564.6,340.8L564.6,339.5L564.7,341.6L564.8,340.8L564.8,340.1L564.9,338.3L565.0,338.2L565.0,340.0L565.1,340.1L565.1,340.4L565.2,340.6L565.3,341.2L565.3,340.7L565.4,339.1L565.5,339.5L565.5,339.7L565.6,339.4L565.6,341.7L565.7,338.9L565.8,339.1L565.8,340.5L565.9,339.3L566.0,339.6L566.0,340.3L566.1,341.3L566.1,341.5L566.2,340.3L566.3,341.6L566.3,339.8L566.4,339.1L566.4,340.5L566.5,341.4L566.6,338.6L566.6,340.5L566.7,339.1L566.8,341.0L566.8,342.1L566.9,341.5L566.9,341.3L567.0,340.9L567.1,341.7L567.1,341.2L567.2,340.5L567.2,340.0L567.3,339.7" fill="none" stroke="#ff7f0e" stroke-width="4" stroke-linejoin="round" stroke-linecap="square"/></g>
</g>
<rect x="102.0" y="46.0" width="465.30" height="461.60" fill="none" stroke="#000" stroke-width="1.6" stroke-linejoin="miter"/>
<line x1="95.0" y1="69.08" x2="102.0" y2="69.08" stroke="#000" stroke-width="1.6"/>
<line x1="95.0" y1="126.78" x2="102.0" y2="126.78" stroke="#000" stroke-width="1.6"/>
<line x1="95.0" y1="184.48" x2="102.0" y2="184.48" stroke="#000" stroke-width="1.6"/>
<line x1="95.0" y1="242.18" x2="102.0" y2="242.18" stroke="#000" stroke-width="1.6"/>
<line x1="95.0" y1="299.88" x2="102.0" y2="299.88" stroke="#000" stroke-width="1.6"/>
<line x1="95.0" y1="357.58" x2="102.0" y2="357.58" stroke="#000" stroke-width="1.6"/>
<line x1="95.0" y1="415.28" x2="102.0" y2="415.28" stroke="#000" stroke-width="1.6"/>
<line x1="95.0" y1="472.98" x2="102.0" y2="472.98" stroke="#000" stroke-width="1.6"/>
<line x1="102.00" y1="507.6" x2="102.00" y2="511.6" stroke="#000" stroke-width="1.2"/>
<line x1="131.49" y1="507.6" x2="131.49" y2="511.6" stroke="#000" stroke-width="1.2"/>
<line x1="152.42" y1="507.6" x2="152.42" y2="511.6" stroke="#000" stroke-width="1.2"/>
<line x1="168.65" y1="507.6" x2="168.65" y2="511.6" stroke="#000" stroke-width="1.2"/>
<line x1="181.91" y1="507.6" x2="181.91" y2="511.6" stroke="#000" stroke-width="1.2"/>
<line x1="193.12" y1="507.6" x2="193.12" y2="511.6" stroke="#000" stroke-width="1.2"/>
<line x1="202.84" y1="507.6" x2="202.84" y2="511.6" stroke="#000" stroke-width="1.2"/>
<line x1="211.40" y1="507.6" x2="211.40" y2="511.6" stroke="#000" stroke-width="1.2"/>
<line x1="219.07" y1="507.6" x2="219.07" y2="514.6" stroke="#000" stroke-width="1.6"/>
<line x1="269.49" y1="507.6" x2="269.49" y2="511.6" stroke="#000" stroke-width="1.2"/>
<line x1="298.98" y1="507.6" x2="298.98" y2="511.6" stroke="#000" stroke-width="1.2"/>
<line x1="319.90" y1="507.6" x2="319.90" y2="511.6" stroke="#000" stroke-width="1.2"/>
<line x1="336.13" y1="507.6" x2="336.13" y2="511.6" stroke="#000" stroke-width="1.2"/>
<line x1="349.40" y1="507.6" x2="349.40" y2="511.6" stroke="#000" stroke-width="1.2"/>
<line x1="360.61" y1="507.6" x2="360.61" y2="511.6" stroke="#000" stroke-width="1.2"/>
<line x1="370.32" y1="507.6" x2="370.32" y2="511.6" stroke="#000" stroke-width="1.2"/>
<line x1="378.89" y1="507.6" x2="378.89" y2="511.6" stroke="#000" stroke-width="1.2"/>
<line x1="386.55" y1="507.6" x2="386.55" y2="514.6" stroke="#000" stroke-width="1.6"/>
<line x1="436.97" y1="507.6" x2="436.97" y2="511.6" stroke="#000" stroke-width="1.2"/>
<line x1="466.46" y1="507.6" x2="466.46" y2="511.6" stroke="#000" stroke-width="1.2"/>
<line x1="487.39" y1="507.6" x2="487.39" y2="511.6" stroke="#000" stroke-width="1.2"/>
<line x1="503.62" y1="507.6" x2="503.62" y2="511.6" stroke="#000" stroke-width="1.2"/>
<line x1="516.88" y1="507.6" x2="516.88" y2="511.6" stroke="#000" stroke-width="1.2"/>
<line x1="528.09" y1="507.6" x2="528.09" y2="511.6" stroke="#000" stroke-width="1.2"/>
<line x1="537.81" y1="507.6" x2="537.81" y2="511.6" stroke="#000" stroke-width="1.2"/>
<line x1="546.37" y1="507.6" x2="546.37" y2="511.6" stroke="#000" stroke-width="1.2"/>
<line x1="554.04" y1="507.6" x2="554.04" y2="514.6" stroke="#000" stroke-width="1.6"/>
<rect x="302" y="56" width="255" height="67" rx="5" ry="5" fill="#fff" fill-opacity="0.8" stroke="#cccccc" stroke-width="1.6"/>
<line x1="308" y1="73" x2="354" y2="73" stroke="#1f77b4" stroke-width="4"/>
<g opacity="0.7"><line x1="308" y1="104" x2="354" y2="104" stroke="#ff7f0e" stroke-width="4"/></g>
<g fill="#000" stroke="#000" stroke-width="0.3" opacity="0.999">
<text x="203.30" y="34.20" font-size="25" textLength="262.40" lengthAdjust="spacingAndGlyphs">Magnitude Spectrum</text>
<text x="258.90" y="573.30" font-size="21" textLength="150.40" lengthAdjust="spacingAndGlyphs">Frequency(Hz)</text>
<text transform="translate(30.00,359.00) rotate(-90)" font-size="21" textLength="156.70" lengthAdjust="spacingAndGlyphs">Magnitude(dB)</text>
<text x="74.90" y="76.12" font-size="21" textLength="11.30" lengthAdjust="spacingAndGlyphs">0</text>
<text x="58.10" y="134.42" font-size="21" textLength="28.10" lengthAdjust="spacingAndGlyphs">−5</text>
<text x="45.10" y="191.72" font-size="21" textLength="41.10" lengthAdjust="spacingAndGlyphs">−10</text>
<text x="45.10" y="250.02" font-size="21" textLength="41.10" lengthAdjust="spacingAndGlyphs">−15</text>
<text x="45.10" y="307.32" font-size="21" textLength="41.10" lengthAdjust="spacingAndGlyphs">−20</text>
<text x="45.10" y="364.62" font-size="21" textLength="41.10" lengthAdjust="spacingAndGlyphs">−25</text>
<text x="45.10" y="422.92" font-size="21" textLength="41.10" lengthAdjust="spacingAndGlyphs">−30</text>
<text x="45.10" y="480.22" font-size="21" textLength="41.10" lengthAdjust="spacingAndGlyphs">−35</text>
<text x="202.91" y="541.80" font-size="21" textLength="24.10" lengthAdjust="spacingAndGlyphs">10</text>
<text x="228.41" y="534.10" font-size="14.5" textLength="7.30" lengthAdjust="spacingAndGlyphs">2</text>
<text x="370.28" y="541.80" font-size="21" textLength="24.10" lengthAdjust="spacingAndGlyphs">10</text>
<text x="396.78" y="534.10" font-size="14.5" textLength="7.30" lengthAdjust="spacingAndGlyphs">3</text>
<text x="537.64" y="541.80" font-size="21" textLength="24.10" lengthAdjust="spacingAndGlyphs">10</text>
<text x="564.14" y="534.10" font-size="14.5" textLength="6.30" lengthAdjust="spacingAndGlyphs">4</text>
<text x="367.60" y="80.80" font-size="21" textLength="179.40" lengthAdjust="spacingAndGlyphs">Pred. (smoothed)</text>
<text x="368.60" y="111.80" font-size="21" textLength="153.40" lengthAdjust="spacingAndGlyphs">GT (smoothed)</text>
</g>
</svg></body></html>
